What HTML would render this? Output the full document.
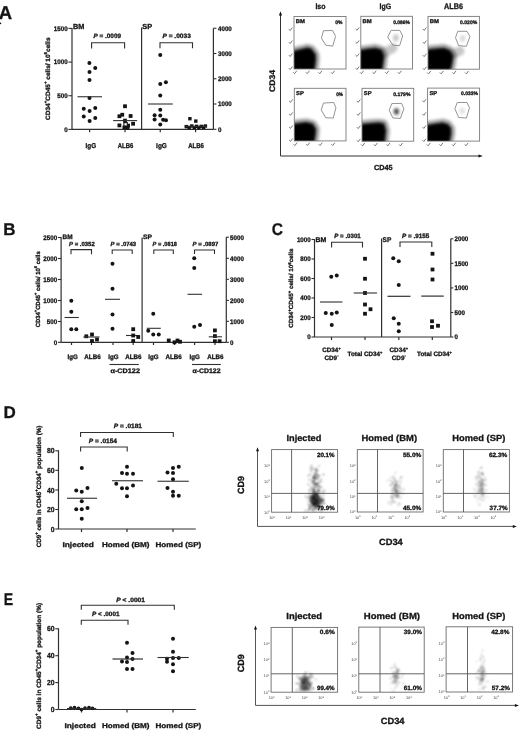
<!DOCTYPE html>
<html><head><meta charset="utf-8"><title>Figure</title>
<style>html,body{margin:0;padding:0;background:#fff;}body{width:520px;height:740px;overflow:hidden;font-family:"Liberation Sans", sans-serif;}svg{display:block;will-change:transform;text-rendering:geometricPrecision;}</style>
</head><body><svg width="520" height="740" viewBox="0 0 520 740" font-family='"Liberation Sans", sans-serif'><style>text{stroke:#141414;stroke-width:0.3px;paint-order:stroke;} text.g{stroke:none}</style><ellipse cx="0.2" cy="23.4" rx="1.1" ry="0.8" fill="#111"/>
<text x="-1.2" y="19.12" font-size="18.5" font-weight="bold" text-anchor="start" fill="#141414">A</text>
<text x="3.2" y="235.24" font-size="17" font-weight="bold" text-anchor="start" fill="#141414">B</text>
<text x="271.8" y="234.99" font-size="17" font-weight="bold" text-anchor="start" fill="#141414" textLength="11.2" lengthAdjust="spacingAndGlyphs">C</text>
<text x="3.5" y="418.44" font-size="17" font-weight="bold" text-anchor="start" fill="#141414">D</text>
<text x="3.7" y="605.39" font-size="17" font-weight="bold" text-anchor="start" fill="#141414" textLength="9.4" lengthAdjust="spacingAndGlyphs">E</text>
<line x1="72" y1="27.9" x2="72" y2="129.4" stroke="#303030" stroke-width="1.2"/>
<line x1="68.4" y1="28.4" x2="72" y2="28.4" stroke="#303030" stroke-width="1.1"/>
<text x="67.6" y="30.77" font-size="6.63" font-weight="bold" text-anchor="end" fill="#141414" textLength="13.79" lengthAdjust="spacingAndGlyphs">1500</text>
<line x1="68.4" y1="62.07" x2="72" y2="62.07" stroke="#303030" stroke-width="1.1"/>
<text x="67.6" y="64.44" font-size="6.63" font-weight="bold" text-anchor="end" fill="#141414" textLength="13.79" lengthAdjust="spacingAndGlyphs">1000</text>
<line x1="68.4" y1="95.73" x2="72" y2="95.73" stroke="#303030" stroke-width="1.1"/>
<text x="67.6" y="98.1" font-size="6.63" font-weight="bold" text-anchor="end" fill="#141414" textLength="10.34" lengthAdjust="spacingAndGlyphs">500</text>
<line x1="68.4" y1="129.4" x2="72" y2="129.4" stroke="#303030" stroke-width="1.1"/>
<text x="67.6" y="131.77" font-size="6.63" font-weight="bold" text-anchor="end" fill="#141414" textLength="3.45" lengthAdjust="spacingAndGlyphs">0</text>
<text x="73" y="29.01" font-size="7.3" font-weight="bold" text-anchor="start" fill="#141414" textLength="11.4" lengthAdjust="spacingAndGlyphs">BM</text>
<line x1="72" y1="129.3" x2="213.4" y2="129.3" stroke="#303030" stroke-width="1.2"/>
<line x1="141.6" y1="27.5" x2="141.6" y2="129.3" stroke="#303030" stroke-width="1.2"/>
<text x="142.3" y="29.01" font-size="7.3" font-weight="bold" text-anchor="start" fill="#141414" textLength="9.9" lengthAdjust="spacingAndGlyphs">SP</text>
<line x1="213.4" y1="28.2" x2="213.4" y2="129.3" stroke="#303030" stroke-width="1.2"/>
<line x1="213.4" y1="28.25" x2="216.4" y2="28.25" stroke="#303030" stroke-width="1.1"/>
<text x="218" y="30.62" font-size="6.63" font-weight="bold" text-anchor="start" fill="#141414" textLength="13.79" lengthAdjust="spacingAndGlyphs">4000</text>
<line x1="213.4" y1="53.5" x2="216.4" y2="53.5" stroke="#303030" stroke-width="1.1"/>
<text x="218" y="55.87" font-size="6.63" font-weight="bold" text-anchor="start" fill="#141414" textLength="13.79" lengthAdjust="spacingAndGlyphs">3000</text>
<line x1="213.4" y1="78.75" x2="216.4" y2="78.75" stroke="#303030" stroke-width="1.1"/>
<text x="218" y="81.12" font-size="6.63" font-weight="bold" text-anchor="start" fill="#141414" textLength="13.79" lengthAdjust="spacingAndGlyphs">2000</text>
<line x1="213.4" y1="104" x2="216.4" y2="104" stroke="#303030" stroke-width="1.1"/>
<text x="218" y="106.37" font-size="6.63" font-weight="bold" text-anchor="start" fill="#141414" textLength="13.79" lengthAdjust="spacingAndGlyphs">1000</text>
<line x1="213.4" y1="129.3" x2="216.4" y2="129.3" stroke="#303030" stroke-width="1.1"/>
<text x="218" y="131.67" font-size="6.63" font-weight="bold" text-anchor="start" fill="#141414" textLength="3.45" lengthAdjust="spacingAndGlyphs">0</text>
<line x1="89.6" y1="129.3" x2="89.6" y2="132.2" stroke="#303030" stroke-width="1.2"/>
<line x1="125" y1="129.3" x2="125" y2="132.2" stroke="#303030" stroke-width="1.2"/>
<line x1="160.25" y1="129.3" x2="160.25" y2="132.2" stroke="#303030" stroke-width="1.2"/>
<line x1="195.6" y1="129.3" x2="195.6" y2="132.2" stroke="#303030" stroke-width="1.2"/>
<text x="90.9" y="147.91" font-size="7" font-weight="bold" text-anchor="middle" fill="#141414" textLength="10.6" lengthAdjust="spacingAndGlyphs">IgG</text>
<text x="125.5" y="147.91" font-size="7" font-weight="bold" text-anchor="middle" fill="#141414" textLength="15.5" lengthAdjust="spacingAndGlyphs">ALB6</text>
<text x="161.5" y="147.91" font-size="7" font-weight="bold" text-anchor="middle" fill="#141414" textLength="10.8" lengthAdjust="spacingAndGlyphs">IgG</text>
<text x="196" y="147.91" font-size="7" font-weight="bold" text-anchor="middle" fill="#141414" textLength="15.7" lengthAdjust="spacingAndGlyphs">ALB6</text>
<text x="93.5" y="37.86" font-size="6.3" font-weight="bold" fill="#141414" textLength="27.5" lengthAdjust="spacingAndGlyphs"><tspan font-style="italic">P</tspan> = .0009</text>
<path d="M91.6,48.5V42.75H124.6V48.5" stroke="#303030" stroke-width="1.1" fill="none" />
<text x="162.5" y="37.56" font-size="6.3" font-weight="bold" fill="#141414" textLength="28.3" lengthAdjust="spacingAndGlyphs"><tspan font-style="italic">P</tspan> = .0033</text>
<path d="M160,48.2V42.75H192.5V48.2" stroke="#303030" stroke-width="1.1" fill="none" />
<text x="47.8" y="80.96" font-size="6.3" font-weight="bold" fill="#141414" text-anchor="middle" textLength="82.5" lengthAdjust="spacingAndGlyphs" transform="rotate(-90 47.8 78.7)"><tspan>CD34</tspan><tspan dy="-2.65" font-size="4.28">+</tspan><tspan dy="2.65">CD45</tspan><tspan dy="-2.65" font-size="4.28">+</tspan><tspan dy="2.65"> cells/ 10</tspan><tspan dy="-2.65" font-size="4.28">6</tspan><tspan dy="2.65">cells</tspan></text>
<circle cx="89.4" cy="63.1" r="2.0" fill="#141414"/>
<circle cx="95.25" cy="68.1" r="2.0" fill="#141414"/>
<circle cx="89.5" cy="72" r="2.0" fill="#141414"/>
<circle cx="89.5" cy="80" r="2.0" fill="#141414"/>
<circle cx="89.5" cy="98" r="2.0" fill="#141414"/>
<circle cx="83.75" cy="108.75" r="2.0" fill="#141414"/>
<circle cx="89.6" cy="111" r="2.0" fill="#141414"/>
<circle cx="95.25" cy="108.1" r="2.0" fill="#141414"/>
<circle cx="83.75" cy="116.6" r="2.0" fill="#141414"/>
<circle cx="95.25" cy="117.9" r="2.0" fill="#141414"/>
<circle cx="89.6" cy="120.9" r="2.0" fill="#141414"/>
<line x1="77.5" y1="96.75" x2="102" y2="96.75" stroke="#303030" stroke-width="1.1"/>
<rect x="123.1" y="104.35" width="3.8" height="3.8" fill="#141414"/>
<rect x="117.5" y="114.35" width="3.8" height="3.8" fill="#141414"/>
<rect x="120.35" y="112.85" width="3.8" height="3.8" fill="#141414"/>
<rect x="128.7" y="114.1" width="3.8" height="3.8" fill="#141414"/>
<rect x="123.1" y="118.7" width="3.8" height="3.8" fill="#141414"/>
<rect x="117.5" y="123.5" width="3.8" height="3.8" fill="#141414"/>
<rect x="126.2" y="123.7" width="3.8" height="3.8" fill="#141414"/>
<rect x="131.2" y="121.85" width="3.8" height="3.8" fill="#141414"/>
<rect x="122.5" y="125.6" width="3.8" height="3.8" fill="#141414"/>
<rect x="125.6" y="125.85" width="3.8" height="3.8" fill="#141414"/>
<line x1="113.1" y1="120.6" x2="137.1" y2="120.6" stroke="#303030" stroke-width="1.1"/>
<rect x="123.9" y="122.6" width="3.4" height="3.4" fill="#fff" stroke="#141414" stroke-width="1.1"/>
<circle cx="160.25" cy="55" r="2.0" fill="#141414"/>
<circle cx="160.25" cy="84.1" r="2.0" fill="#141414"/>
<circle cx="165.9" cy="82.25" r="2.0" fill="#141414"/>
<circle cx="160.25" cy="95.6" r="2.0" fill="#141414"/>
<circle cx="160.25" cy="109.75" r="2.0" fill="#141414"/>
<circle cx="154.6" cy="115.25" r="2.0" fill="#141414"/>
<circle cx="160.25" cy="115.6" r="2.0" fill="#141414"/>
<circle cx="154.6" cy="119.4" r="2.0" fill="#141414"/>
<circle cx="163.1" cy="119.75" r="2.0" fill="#141414"/>
<circle cx="166" cy="120.25" r="2.0" fill="#141414"/>
<circle cx="160.25" cy="124.4" r="2.0" fill="#141414"/>
<line x1="148.1" y1="104" x2="172.75" y2="104" stroke="#303030" stroke-width="1.1"/>
<rect x="188.2" y="117" width="3.4" height="3.4" fill="#141414"/>
<rect x="194.1" y="119.4" width="3.4" height="3.4" fill="#141414"/>
<rect x="184.6" y="124.9" width="3.4" height="3.4" fill="#141414"/>
<rect x="187.5" y="125.9" width="3.4" height="3.4" fill="#141414"/>
<rect x="190.1" y="124.3" width="3.4" height="3.4" fill="#141414"/>
<rect x="192.6" y="126.1" width="3.4" height="3.4" fill="#141414"/>
<rect x="194.8" y="124.6" width="3.4" height="3.4" fill="#141414"/>
<rect x="197.1" y="125.9" width="3.4" height="3.4" fill="#141414"/>
<rect x="199.6" y="124.7" width="3.4" height="3.4" fill="#141414"/>
<rect x="201.9" y="125.6" width="3.4" height="3.4" fill="#141414"/>
<rect x="203.7" y="124.3" width="3.4" height="3.4" fill="#141414"/>
<line x1="184.6" y1="126.3" x2="207.1" y2="126.3" stroke="#303030" stroke-width="1.1"/>
<text x="320.4" y="8.86" font-size="8" font-weight="bold" text-anchor="middle" fill="#141414" textLength="10" lengthAdjust="spacingAndGlyphs">Iso</text>
<text x="385.4" y="8.86" font-size="8" font-weight="bold" text-anchor="middle" fill="#141414" textLength="11.6" lengthAdjust="spacingAndGlyphs">IgG</text>
<text x="453.5" y="8.86" font-size="8" font-weight="bold" text-anchor="middle" fill="#141414" textLength="18.9" lengthAdjust="spacingAndGlyphs">ALB6</text>
<path d="M280.5,14V156H480" stroke="#333" stroke-width="1.0" fill="none" />
<path d="M278.9,15.5L280.5,11.2L282.1,15.5Z" stroke="none" stroke-width="0" fill="#111" />
<path d="M478.5,154.4L482.8,156L478.5,157.6Z" stroke="none" stroke-width="0" fill="#111" />
<text x="271.7" y="83.94" font-size="8.2" font-weight="bold" fill="#141414" text-anchor="middle" textLength="22" lengthAdjust="spacingAndGlyphs" transform="rotate(-90 271.7 81)">CD34</text>
<text x="374" y="170.41" font-size="7.3" font-weight="bold" text-anchor="start" fill="#141414" textLength="18.6" lengthAdjust="spacingAndGlyphs">CD45</text>
<defs><filter id="b1" filterUnits="userSpaceOnUse" x="0" y="0" width="520" height="740"><feGaussianBlur stdDeviation="1.6"/></filter><filter id="b2" filterUnits="userSpaceOnUse" x="0" y="0" width="520" height="740"><feGaussianBlur stdDeviation="0.8"/></filter><filter id="b3" filterUnits="userSpaceOnUse" x="0" y="0" width="520" height="740"><feGaussianBlur stdDeviation="2.5"/></filter><filter id="b05" filterUnits="userSpaceOnUse" x="0" y="0" width="520" height="740"><feGaussianBlur stdDeviation="0.8"/></filter></defs>
<defs><filter id="bh" filterUnits="userSpaceOnUse" x="0" y="0" width="520" height="740"><feGaussianBlur stdDeviation="1.8"/></filter></defs>
<clipPath id="cl00"><rect x="294" y="16.5" width="52" height="52.5"/></clipPath>
<g clip-path="url(#cl00)"><polygon points="292,71 292,51.7 294,51.7 300,50.3 307.4,48.6 311,49.5 314.8,54.8 315,60 313.7,69.5 313.7,71" fill="#000" stroke="#000" stroke-width="9" stroke-linejoin="round" opacity="0.4" filter="url(#bh)"/><polygon points="292,71 292,51.7 294,51.7 300,50.3 307.4,48.6 311,49.5 314.8,54.8 315,60 313.7,69.5 313.7,71" fill="#000" stroke="#000" stroke-width="2.6" stroke-linejoin="round" opacity="0.55" filter="url(#b2)"/><polygon points="292,71 292,51.7 294,51.7 300,50.3 307.4,48.6 311,49.5 314.8,54.8 315,60 313.7,69.5 313.7,71" fill="#000" filter="url(#b2)"/></g>
<rect x="294" y="16.5" width="52" height="52.5" fill="none" stroke="#7a7a7a" stroke-width="0.9"/>
<polygon points="321.4,38.2 323.5,30.7 332.7,30.5 335.6,36.5 332.7,46.1 325.8,45.2" fill="none" stroke="#888" stroke-width="0.9"/>
<text x="295.8" y="22.7" font-size="5.6" font-weight="bold" text-anchor="start" fill="#141414" textLength="9.2" lengthAdjust="spacingAndGlyphs">BM</text>
<text x="335.3" y="24.49" font-size="5" font-weight="bold" text-anchor="start" fill="#141414" textLength="7.2" lengthAdjust="spacingAndGlyphs">0%</text>
<path d="M289.1,29.4l1.1,1.1l1.9,-2.6" fill="none" stroke="#6a6a6a" stroke-width="0.9" stroke-linecap="round"/>
<path d="M293.5,72.6l1.1,1.1l1.9,-2.6" fill="none" stroke="#6a6a6a" stroke-width="0.9" stroke-linecap="round"/>
<path d="M289.1,42.4l1.1,1.1l1.9,-2.6" fill="none" stroke="#6a6a6a" stroke-width="0.9" stroke-linecap="round"/>
<path d="M306.1,72.6l1.1,1.1l1.9,-2.6" fill="none" stroke="#6a6a6a" stroke-width="0.9" stroke-linecap="round"/>
<path d="M289.1,55.4l1.1,1.1l1.9,-2.6" fill="none" stroke="#6a6a6a" stroke-width="0.9" stroke-linecap="round"/>
<path d="M318.7,72.6l1.1,1.1l1.9,-2.6" fill="none" stroke="#6a6a6a" stroke-width="0.9" stroke-linecap="round"/>
<path d="M289.1,68.4l1.1,1.1l1.9,-2.6" fill="none" stroke="#6a6a6a" stroke-width="0.9" stroke-linecap="round"/>
<path d="M331.3,72.6l1.1,1.1l1.9,-2.6" fill="none" stroke="#6a6a6a" stroke-width="0.9" stroke-linecap="round"/>
<clipPath id="cl01"><rect x="360.8" y="16.3" width="51.7" height="52.7"/></clipPath>
<g clip-path="url(#cl01)"><polygon points="358.8,71 358.8,50.7 360.8,50.7 368,49.6 375.4,48.8 380.8,50.3 383.1,55.7 382.7,61.1 381.5,69.5 381.5,71" fill="#000" stroke="#000" stroke-width="9" stroke-linejoin="round" opacity="0.4" filter="url(#bh)"/><polygon points="358.8,71 358.8,50.7 360.8,50.7 368,49.6 375.4,48.8 380.8,50.3 383.1,55.7 382.7,61.1 381.5,69.5 381.5,71" fill="#000" stroke="#000" stroke-width="2.6" stroke-linejoin="round" opacity="0.55" filter="url(#b2)"/><polyline points="378,58 386,52 393,48" fill="none" stroke="#000" stroke-width="9" stroke-linecap="round" opacity="0.22" filter="url(#bh)"/><polygon points="358.8,71 358.8,50.7 360.8,50.7 368,49.6 375.4,48.8 380.8,50.3 383.1,55.7 382.7,61.1 381.5,69.5 381.5,71" fill="#000" filter="url(#b2)"/></g>
<rect x="360.8" y="16.3" width="51.7" height="52.7" fill="none" stroke="#7a7a7a" stroke-width="0.9"/>
<polygon points="387.7,37.1 391.2,30.4 399.8,30.4 402.7,35.9 399.6,45.7 392.9,45.2" fill="none" stroke="#888" stroke-width="0.9"/>
<text x="362.6" y="22.5" font-size="5.6" font-weight="bold" text-anchor="start" fill="#141414" textLength="9.2" lengthAdjust="spacingAndGlyphs">BM</text>
<text x="393.2" y="24.29" font-size="5" font-weight="bold" text-anchor="start" fill="#141414" textLength="16.8" lengthAdjust="spacingAndGlyphs">0.086%</text>
<path d="M355.9,29.2l1.1,1.1l1.9,-2.6" fill="none" stroke="#6a6a6a" stroke-width="0.9" stroke-linecap="round"/>
<path d="M360.3,72.6l1.1,1.1l1.9,-2.6" fill="none" stroke="#6a6a6a" stroke-width="0.9" stroke-linecap="round"/>
<path d="M355.9,42.27l1.1,1.1l1.9,-2.6" fill="none" stroke="#6a6a6a" stroke-width="0.9" stroke-linecap="round"/>
<path d="M372.9,72.6l1.1,1.1l1.9,-2.6" fill="none" stroke="#6a6a6a" stroke-width="0.9" stroke-linecap="round"/>
<path d="M355.9,55.33l1.1,1.1l1.9,-2.6" fill="none" stroke="#6a6a6a" stroke-width="0.9" stroke-linecap="round"/>
<path d="M385.5,72.6l1.1,1.1l1.9,-2.6" fill="none" stroke="#6a6a6a" stroke-width="0.9" stroke-linecap="round"/>
<path d="M355.9,68.4l1.1,1.1l1.9,-2.6" fill="none" stroke="#6a6a6a" stroke-width="0.9" stroke-linecap="round"/>
<path d="M398.1,72.6l1.1,1.1l1.9,-2.6" fill="none" stroke="#6a6a6a" stroke-width="0.9" stroke-linecap="round"/>
<clipPath id="cl02"><rect x="428" y="16.4" width="51.4" height="52.8"/></clipPath>
<g clip-path="url(#cl02)"><polygon points="426,71.2 426,50.3 428,50.3 436,49.4 443.7,48.8 449.1,50.7 452.2,55.7 451.4,63.4 449.8,69.5 449.8,71.2" fill="#000" stroke="#000" stroke-width="9" stroke-linejoin="round" opacity="0.4" filter="url(#bh)"/><polygon points="426,71.2 426,50.3 428,50.3 436,49.4 443.7,48.8 449.1,50.7 452.2,55.7 451.4,63.4 449.8,69.5 449.8,71.2" fill="#000" stroke="#000" stroke-width="2.6" stroke-linejoin="round" opacity="0.55" filter="url(#b2)"/><polyline points="446,58 453,54 460,51" fill="none" stroke="#000" stroke-width="9" stroke-linecap="round" opacity="0.22" filter="url(#bh)"/><polygon points="426,71.2 426,50.3 428,50.3 436,49.4 443.7,48.8 449.1,50.7 452.2,55.7 451.4,63.4 449.8,69.5 449.8,71.2" fill="#000" filter="url(#b2)"/></g>
<rect x="428" y="16.4" width="51.4" height="52.8" fill="none" stroke="#7a7a7a" stroke-width="0.9"/>
<polygon points="455.5,37.7 457.8,31.3 467,31.3 469.9,36.5 466.4,46.3 458.7,45.7" fill="none" stroke="#888" stroke-width="0.9"/>
<text x="429.8" y="22.6" font-size="5.6" font-weight="bold" text-anchor="start" fill="#141414" textLength="9.2" lengthAdjust="spacingAndGlyphs">BM</text>
<text x="460.1" y="24.39" font-size="5" font-weight="bold" text-anchor="start" fill="#141414" textLength="17.1" lengthAdjust="spacingAndGlyphs">0.020%</text>
<path d="M423.1,29.3l1.1,1.1l1.9,-2.6" fill="none" stroke="#6a6a6a" stroke-width="0.9" stroke-linecap="round"/>
<path d="M427.5,72.8l1.1,1.1l1.9,-2.6" fill="none" stroke="#6a6a6a" stroke-width="0.9" stroke-linecap="round"/>
<path d="M423.1,42.4l1.1,1.1l1.9,-2.6" fill="none" stroke="#6a6a6a" stroke-width="0.9" stroke-linecap="round"/>
<path d="M440.1,72.8l1.1,1.1l1.9,-2.6" fill="none" stroke="#6a6a6a" stroke-width="0.9" stroke-linecap="round"/>
<path d="M423.1,55.5l1.1,1.1l1.9,-2.6" fill="none" stroke="#6a6a6a" stroke-width="0.9" stroke-linecap="round"/>
<path d="M452.7,72.8l1.1,1.1l1.9,-2.6" fill="none" stroke="#6a6a6a" stroke-width="0.9" stroke-linecap="round"/>
<path d="M423.1,68.6l1.1,1.1l1.9,-2.6" fill="none" stroke="#6a6a6a" stroke-width="0.9" stroke-linecap="round"/>
<path d="M465.3,72.8l1.1,1.1l1.9,-2.6" fill="none" stroke="#6a6a6a" stroke-width="0.9" stroke-linecap="round"/>
<clipPath id="cl10"><rect x="294.3" y="88.3" width="51.7" height="52.6"/></clipPath>
<g clip-path="url(#cl10)"><polygon points="292.3,142.9 292.3,124.6 294.3,124.6 300,123.8 306.2,123.1 312.3,124.6 315.1,129.2 314.8,134.2 313.5,141.5 313.5,142.9" fill="#000" stroke="#000" stroke-width="9" stroke-linejoin="round" opacity="0.4" filter="url(#bh)"/><polygon points="292.3,142.9 292.3,124.6 294.3,124.6 300,123.8 306.2,123.1 312.3,124.6 315.1,129.2 314.8,134.2 313.5,141.5 313.5,142.9" fill="#000" stroke="#000" stroke-width="2.6" stroke-linejoin="round" opacity="0.55" filter="url(#b2)"/><polygon points="292.3,142.9 292.3,124.6 294.3,124.6 300,123.8 306.2,123.1 312.3,124.6 315.1,129.2 314.8,134.2 313.5,141.5 313.5,142.9" fill="#000" filter="url(#b2)"/></g>
<rect x="294.3" y="88.3" width="51.7" height="52.6" fill="none" stroke="#7a7a7a" stroke-width="0.9"/>
<polygon points="321.2,110 323.5,103 333.8,102.5 335.9,107.7 333.3,118 325.8,117.8" fill="none" stroke="#888" stroke-width="0.9"/>
<text x="296.1" y="94.7" font-size="5.6" font-weight="bold" text-anchor="start" fill="#141414" textLength="7.8" lengthAdjust="spacingAndGlyphs">SP</text>
<text x="336.2" y="95.69" font-size="5" font-weight="bold" text-anchor="start" fill="#141414" textLength="6.8" lengthAdjust="spacingAndGlyphs">0%</text>
<path d="M289.4,101.2l1.1,1.1l1.9,-2.6" fill="none" stroke="#6a6a6a" stroke-width="0.9" stroke-linecap="round"/>
<path d="M293.8,144.5l1.1,1.1l1.9,-2.6" fill="none" stroke="#6a6a6a" stroke-width="0.9" stroke-linecap="round"/>
<path d="M289.4,114.23l1.1,1.1l1.9,-2.6" fill="none" stroke="#6a6a6a" stroke-width="0.9" stroke-linecap="round"/>
<path d="M306.4,144.5l1.1,1.1l1.9,-2.6" fill="none" stroke="#6a6a6a" stroke-width="0.9" stroke-linecap="round"/>
<path d="M289.4,127.27l1.1,1.1l1.9,-2.6" fill="none" stroke="#6a6a6a" stroke-width="0.9" stroke-linecap="round"/>
<path d="M319,144.5l1.1,1.1l1.9,-2.6" fill="none" stroke="#6a6a6a" stroke-width="0.9" stroke-linecap="round"/>
<path d="M289.4,140.3l1.1,1.1l1.9,-2.6" fill="none" stroke="#6a6a6a" stroke-width="0.9" stroke-linecap="round"/>
<path d="M331.6,144.5l1.1,1.1l1.9,-2.6" fill="none" stroke="#6a6a6a" stroke-width="0.9" stroke-linecap="round"/>
<clipPath id="cl11"><rect x="362" y="88.3" width="51.7" height="52.9"/></clipPath>
<g clip-path="url(#cl11)"><polygon points="360,143.2 360,124.9 362,124.9 370,124.1 378.5,123.4 383.4,124.3 385.2,130.5 384,141.5 384,143.2" fill="#000" stroke="#000" stroke-width="9" stroke-linejoin="round" opacity="0.4" filter="url(#bh)"/><polygon points="360,143.2 360,124.9 362,124.9 370,124.1 378.5,123.4 383.4,124.3 385.2,130.5 384,141.5 384,143.2" fill="#000" stroke="#000" stroke-width="2.6" stroke-linejoin="round" opacity="0.55" filter="url(#b2)"/><polygon points="360,143.2 360,124.9 362,124.9 370,124.1 378.5,123.4 383.4,124.3 385.2,130.5 384,141.5 384,143.2" fill="#000" filter="url(#b2)"/></g>
<rect x="362" y="88.3" width="51.7" height="52.9" fill="none" stroke="#7a7a7a" stroke-width="0.9"/>
<polygon points="389.2,110.3 391.8,103.6 401.6,103.4 403.9,108.8 400.4,118.4 392.9,118" fill="none" stroke="#888" stroke-width="0.9"/>
<text x="363.8" y="94.7" font-size="5.6" font-weight="bold" text-anchor="start" fill="#141414" textLength="7.8" lengthAdjust="spacingAndGlyphs">SP</text>
<text x="393.2" y="95.69" font-size="5" font-weight="bold" text-anchor="start" fill="#141414" textLength="17.3" lengthAdjust="spacingAndGlyphs">0.179%</text>
<path d="M357.1,101.2l1.1,1.1l1.9,-2.6" fill="none" stroke="#6a6a6a" stroke-width="0.9" stroke-linecap="round"/>
<path d="M361.5,144.8l1.1,1.1l1.9,-2.6" fill="none" stroke="#6a6a6a" stroke-width="0.9" stroke-linecap="round"/>
<path d="M357.1,114.33l1.1,1.1l1.9,-2.6" fill="none" stroke="#6a6a6a" stroke-width="0.9" stroke-linecap="round"/>
<path d="M374.1,144.8l1.1,1.1l1.9,-2.6" fill="none" stroke="#6a6a6a" stroke-width="0.9" stroke-linecap="round"/>
<path d="M357.1,127.47l1.1,1.1l1.9,-2.6" fill="none" stroke="#6a6a6a" stroke-width="0.9" stroke-linecap="round"/>
<path d="M386.7,144.8l1.1,1.1l1.9,-2.6" fill="none" stroke="#6a6a6a" stroke-width="0.9" stroke-linecap="round"/>
<path d="M357.1,140.6l1.1,1.1l1.9,-2.6" fill="none" stroke="#6a6a6a" stroke-width="0.9" stroke-linecap="round"/>
<path d="M399.3,144.8l1.1,1.1l1.9,-2.6" fill="none" stroke="#6a6a6a" stroke-width="0.9" stroke-linecap="round"/>
<clipPath id="cl12"><rect x="427.6" y="88.1" width="52" height="53"/></clipPath>
<g clip-path="url(#cl12)"><polygon points="425.6,143.1 425.6,125.8 427.6,125.8 435,124.6 442.6,123.4 447.5,124.9 450.3,128.6 450.3,134.2 448.8,141.5 448.8,143.1" fill="#000" stroke="#000" stroke-width="9" stroke-linejoin="round" opacity="0.4" filter="url(#bh)"/><polygon points="425.6,143.1 425.6,125.8 427.6,125.8 435,124.6 442.6,123.4 447.5,124.9 450.3,128.6 450.3,134.2 448.8,141.5 448.8,143.1" fill="#000" stroke="#000" stroke-width="2.6" stroke-linejoin="round" opacity="0.55" filter="url(#b2)"/><polygon points="425.6,143.1 425.6,125.8 427.6,125.8 435,124.6 442.6,123.4 447.5,124.9 450.3,128.6 450.3,134.2 448.8,141.5 448.8,143.1" fill="#000" filter="url(#b2)"/></g>
<rect x="427.6" y="88.1" width="52" height="53" fill="none" stroke="#7a7a7a" stroke-width="0.9"/>
<polygon points="454.9,108.8 457.2,102.5 467,102.5 469.5,107.7 466.4,118 458.7,117.5" fill="none" stroke="#888" stroke-width="0.9"/>
<text x="429.4" y="94.5" font-size="5.6" font-weight="bold" text-anchor="start" fill="#141414" textLength="7.8" lengthAdjust="spacingAndGlyphs">SP</text>
<text x="461" y="95.49" font-size="5" font-weight="bold" text-anchor="start" fill="#141414" textLength="17" lengthAdjust="spacingAndGlyphs">0.033%</text>
<path d="M422.7,101l1.1,1.1l1.9,-2.6" fill="none" stroke="#6a6a6a" stroke-width="0.9" stroke-linecap="round"/>
<path d="M427.1,144.7l1.1,1.1l1.9,-2.6" fill="none" stroke="#6a6a6a" stroke-width="0.9" stroke-linecap="round"/>
<path d="M422.7,114.17l1.1,1.1l1.9,-2.6" fill="none" stroke="#6a6a6a" stroke-width="0.9" stroke-linecap="round"/>
<path d="M439.7,144.7l1.1,1.1l1.9,-2.6" fill="none" stroke="#6a6a6a" stroke-width="0.9" stroke-linecap="round"/>
<path d="M422.7,127.33l1.1,1.1l1.9,-2.6" fill="none" stroke="#6a6a6a" stroke-width="0.9" stroke-linecap="round"/>
<path d="M452.3,144.7l1.1,1.1l1.9,-2.6" fill="none" stroke="#6a6a6a" stroke-width="0.9" stroke-linecap="round"/>
<path d="M422.7,140.5l1.1,1.1l1.9,-2.6" fill="none" stroke="#6a6a6a" stroke-width="0.9" stroke-linecap="round"/>
<path d="M464.9,144.7l1.1,1.1l1.9,-2.6" fill="none" stroke="#6a6a6a" stroke-width="0.9" stroke-linecap="round"/>
<ellipse cx="395.8" cy="37.8" rx="2.8" ry="3.6" fill="#000" opacity="0.22" filter="url(#bh)"/>
<ellipse cx="462.5" cy="38.5" rx="2.6" ry="3.4" fill="#000" opacity="0.15" filter="url(#bh)"/>
<ellipse cx="396.4" cy="111.5" rx="2.2" ry="2.8" fill="#000" opacity="0.5" filter="url(#b2)"/>
<ellipse cx="396.4" cy="111.5" rx="3.2" ry="4.0" fill="#000" opacity="0.3" filter="url(#bh)"/>
<ellipse cx="462.2" cy="111.0" rx="2.4" ry="3.2" fill="#000" opacity="0.13" filter="url(#bh)"/>
<line x1="61.1" y1="237" x2="61.1" y2="342.3" stroke="#303030" stroke-width="1.2"/>
<line x1="57.9" y1="237.5" x2="61.1" y2="237.5" stroke="#303030" stroke-width="1.1"/>
<text x="57.1" y="239.87" font-size="6.63" font-weight="bold" text-anchor="end" fill="#141414" textLength="13.79" lengthAdjust="spacingAndGlyphs">2500</text>
<line x1="57.9" y1="258.5" x2="61.1" y2="258.5" stroke="#303030" stroke-width="1.1"/>
<text x="57.1" y="260.87" font-size="6.63" font-weight="bold" text-anchor="end" fill="#141414" textLength="13.79" lengthAdjust="spacingAndGlyphs">2000</text>
<line x1="57.9" y1="279.5" x2="61.1" y2="279.5" stroke="#303030" stroke-width="1.1"/>
<text x="57.1" y="281.87" font-size="6.63" font-weight="bold" text-anchor="end" fill="#141414" textLength="13.79" lengthAdjust="spacingAndGlyphs">1500</text>
<line x1="57.9" y1="300.5" x2="61.1" y2="300.5" stroke="#303030" stroke-width="1.1"/>
<text x="57.1" y="302.87" font-size="6.63" font-weight="bold" text-anchor="end" fill="#141414" textLength="13.79" lengthAdjust="spacingAndGlyphs">1000</text>
<line x1="57.9" y1="321.5" x2="61.1" y2="321.5" stroke="#303030" stroke-width="1.1"/>
<text x="57.1" y="323.87" font-size="6.63" font-weight="bold" text-anchor="end" fill="#141414" textLength="10.34" lengthAdjust="spacingAndGlyphs">500</text>
<line x1="57.9" y1="342.3" x2="61.1" y2="342.3" stroke="#303030" stroke-width="1.1"/>
<text x="57.1" y="344.67" font-size="6.63" font-weight="bold" text-anchor="end" fill="#141414" textLength="3.45" lengthAdjust="spacingAndGlyphs">0</text>
<text x="62.5" y="238.69" font-size="6.4" font-weight="bold" text-anchor="start" fill="#141414" textLength="10" lengthAdjust="spacingAndGlyphs">BM</text>
<line x1="61.1" y1="342.3" x2="226.3" y2="342.3" stroke="#303030" stroke-width="1.2"/>
<line x1="142.1" y1="237.4" x2="142.1" y2="342.3" stroke="#303030" stroke-width="1.2"/>
<text x="143" y="239.29" font-size="6.4" font-weight="bold" text-anchor="start" fill="#141414" textLength="9" lengthAdjust="spacingAndGlyphs">SP</text>
<line x1="226.3" y1="237" x2="226.3" y2="342.3" stroke="#303030" stroke-width="1.2"/>
<line x1="226.3" y1="237.2" x2="228.9" y2="237.2" stroke="#303030" stroke-width="1.1"/>
<text x="230.1" y="239.57" font-size="6.63" font-weight="bold" text-anchor="start" fill="#141414" textLength="13.79" lengthAdjust="spacingAndGlyphs">5000</text>
<line x1="226.3" y1="258.3" x2="228.9" y2="258.3" stroke="#303030" stroke-width="1.1"/>
<text x="230.1" y="260.67" font-size="6.63" font-weight="bold" text-anchor="start" fill="#141414" textLength="13.79" lengthAdjust="spacingAndGlyphs">4000</text>
<line x1="226.3" y1="279.3" x2="228.9" y2="279.3" stroke="#303030" stroke-width="1.1"/>
<text x="230.1" y="281.67" font-size="6.63" font-weight="bold" text-anchor="start" fill="#141414" textLength="13.79" lengthAdjust="spacingAndGlyphs">3000</text>
<line x1="226.3" y1="300.4" x2="228.9" y2="300.4" stroke="#303030" stroke-width="1.1"/>
<text x="230.1" y="302.77" font-size="6.63" font-weight="bold" text-anchor="start" fill="#141414" textLength="13.79" lengthAdjust="spacingAndGlyphs">2000</text>
<line x1="226.3" y1="321.3" x2="228.9" y2="321.3" stroke="#303030" stroke-width="1.1"/>
<text x="230.1" y="323.67" font-size="6.63" font-weight="bold" text-anchor="start" fill="#141414" textLength="13.79" lengthAdjust="spacingAndGlyphs">1000</text>
<line x1="226.3" y1="342.3" x2="228.9" y2="342.3" stroke="#303030" stroke-width="1.1"/>
<text x="230.1" y="344.67" font-size="6.63" font-weight="bold" text-anchor="start" fill="#141414" textLength="3.45" lengthAdjust="spacingAndGlyphs">0</text>
<line x1="71.5" y1="342.3" x2="71.5" y2="345" stroke="#303030" stroke-width="1.2"/>
<line x1="91.5" y1="342.3" x2="91.5" y2="345" stroke="#303030" stroke-width="1.2"/>
<line x1="113" y1="342.3" x2="113" y2="345" stroke="#303030" stroke-width="1.2"/>
<line x1="133.2" y1="342.3" x2="133.2" y2="345" stroke="#303030" stroke-width="1.2"/>
<line x1="153.5" y1="342.3" x2="153.5" y2="345" stroke="#303030" stroke-width="1.2"/>
<line x1="174.5" y1="342.3" x2="174.5" y2="345" stroke="#303030" stroke-width="1.2"/>
<line x1="194.6" y1="342.3" x2="194.6" y2="345" stroke="#303030" stroke-width="1.2"/>
<line x1="215" y1="342.3" x2="215" y2="345" stroke="#303030" stroke-width="1.2"/>
<text x="72.7" y="358.96" font-size="6.6" font-weight="bold" text-anchor="middle" fill="#141414" textLength="10.3" lengthAdjust="spacingAndGlyphs">IgG</text>
<text x="92.5" y="358.96" font-size="6.6" font-weight="bold" text-anchor="middle" fill="#141414" textLength="16.3" lengthAdjust="spacingAndGlyphs">ALB6</text>
<text x="113.4" y="358.96" font-size="6.6" font-weight="bold" text-anchor="middle" fill="#141414" textLength="10.3" lengthAdjust="spacingAndGlyphs">IgG</text>
<text x="133.3" y="358.96" font-size="6.6" font-weight="bold" text-anchor="middle" fill="#141414" textLength="16.3" lengthAdjust="spacingAndGlyphs">ALB6</text>
<text x="153.4" y="358.96" font-size="6.6" font-weight="bold" text-anchor="middle" fill="#141414" textLength="10.3" lengthAdjust="spacingAndGlyphs">IgG</text>
<text x="173.6" y="358.96" font-size="6.6" font-weight="bold" text-anchor="middle" fill="#141414" textLength="16.3" lengthAdjust="spacingAndGlyphs">ALB6</text>
<text x="194.75" y="358.96" font-size="6.6" font-weight="bold" text-anchor="middle" fill="#141414" textLength="10.3" lengthAdjust="spacingAndGlyphs">IgG</text>
<text x="215.4" y="358.96" font-size="6.6" font-weight="bold" text-anchor="middle" fill="#141414" textLength="16.3" lengthAdjust="spacingAndGlyphs">ALB6</text>
<text x="69" y="246.45" font-size="6.0" font-weight="bold" fill="#141414" textLength="25.75" lengthAdjust="spacingAndGlyphs"><tspan font-style="italic">P</tspan> = .0352</text>
<text x="110.5" y="246.45" font-size="6.0" font-weight="bold" fill="#141414" textLength="25.7" lengthAdjust="spacingAndGlyphs"><tspan font-style="italic">P</tspan> = .0743</text>
<text x="152.5" y="246.45" font-size="6.0" font-weight="bold" fill="#141414" textLength="24.5" lengthAdjust="spacingAndGlyphs"><tspan font-style="italic">P</tspan> = .0818</text>
<text x="192.5" y="246.45" font-size="6.0" font-weight="bold" fill="#141414" textLength="25.8" lengthAdjust="spacingAndGlyphs"><tspan font-style="italic">P</tspan> = .0897</text>
<path d="M71,254.2V249.6H91.5V254.2" stroke="#303030" stroke-width="1.1" fill="none" />
<path d="M112.2,253.9V250H132.2V253.9" stroke="#303030" stroke-width="1.1" fill="none" />
<path d="M153.8,253.9V250H173.3V253.9" stroke="#303030" stroke-width="1.1" fill="none" />
<path d="M194.5,253.9V250H214.5V253.9" stroke="#303030" stroke-width="1.1" fill="none" />
<line x1="109.5" y1="364.5" x2="138.8" y2="364.5" stroke="#303030" stroke-width="1.1"/>
<line x1="192" y1="364.5" x2="220.8" y2="364.5" stroke="#303030" stroke-width="1.1"/>
<text x="125.2" y="372.86" font-size="6.6" font-weight="bold" text-anchor="middle" fill="#141414" textLength="29.5" lengthAdjust="spacingAndGlyphs">α-CD122</text>
<text x="206.5" y="372.86" font-size="6.6" font-weight="bold" text-anchor="middle" fill="#141414" textLength="28" lengthAdjust="spacingAndGlyphs">α-CD122</text>
<text x="37.8" y="291.35" font-size="6.0" font-weight="bold" fill="#141414" text-anchor="middle" textLength="75.9" lengthAdjust="spacingAndGlyphs" transform="rotate(-90 37.8 289.2)"><tspan>CD34</tspan><tspan dy="-2.52" font-size="4.08">+</tspan><tspan dy="2.52">CD45</tspan><tspan dy="-2.52" font-size="4.08">+</tspan><tspan dy="2.52"> cells/ 10</tspan><tspan dy="-2.52" font-size="4.08">6</tspan><tspan dy="2.52"> cells</tspan></text>
<circle cx="71.3" cy="300.75" r="2.0" fill="#141414"/>
<circle cx="71.3" cy="311.75" r="2.0" fill="#141414"/>
<circle cx="71.3" cy="329.25" r="2.0" fill="#141414"/>
<circle cx="76.3" cy="329.25" r="2.0" fill="#141414"/>
<line x1="64.5" y1="317.5" x2="78.8" y2="317.5" stroke="#303030" stroke-width="1.1"/>
<rect x="84.4" y="334.4" width="3.8" height="3.8" fill="#141414"/>
<rect x="90.1" y="332.6" width="3.8" height="3.8" fill="#141414"/>
<rect x="90.1" y="339.1" width="3.8" height="3.8" fill="#141414"/>
<rect x="95.1" y="337.6" width="3.8" height="3.8" fill="#141414"/>
<line x1="83.3" y1="337" x2="99.5" y2="337" stroke="#303030" stroke-width="1.1"/>
<circle cx="112.5" cy="263.75" r="2.0" fill="#141414"/>
<circle cx="112.5" cy="288.75" r="2.0" fill="#141414"/>
<circle cx="112.5" cy="314.5" r="2.0" fill="#141414"/>
<circle cx="112.5" cy="328.75" r="2.0" fill="#141414"/>
<line x1="105" y1="299.3" x2="120" y2="299.3" stroke="#303030" stroke-width="1.1"/>
<line x1="126" y1="335.5" x2="138.8" y2="335.5" stroke="#303030" stroke-width="1.1"/>
<rect x="131.3" y="327.3" width="3.8" height="3.8" fill="#141414"/>
<rect x="131.3" y="339.1" width="3.8" height="3.8" fill="#141414"/>
<rect x="136.3" y="335.1" width="3.8" height="3.8" fill="#141414"/>
<rect x="131.3" y="333.6" width="3.8" height="3.8" fill="#141414"/>
<circle cx="153.25" cy="313.75" r="2.0" fill="#141414"/>
<circle cx="148.25" cy="330.75" r="2.0" fill="#141414"/>
<circle cx="153.25" cy="334.5" r="2.0" fill="#141414"/>
<circle cx="158.75" cy="334.5" r="2.0" fill="#141414"/>
<line x1="146.8" y1="328.3" x2="160.8" y2="328.3" stroke="#303030" stroke-width="1.1"/>
<rect x="166.85" y="338.6" width="3.8" height="3.8" fill="#141414"/>
<rect x="172.6" y="340.4" width="3.8" height="3.8" fill="#141414"/>
<rect x="175.6" y="338.6" width="3.8" height="3.8" fill="#141414"/>
<rect x="178.1" y="339.85" width="3.8" height="3.8" fill="#141414"/>
<circle cx="194.25" cy="258.25" r="2.0" fill="#141414"/>
<circle cx="194.25" cy="268" r="2.0" fill="#141414"/>
<circle cx="194.25" cy="326.75" r="2.0" fill="#141414"/>
<circle cx="200" cy="325" r="2.0" fill="#141414"/>
<line x1="187.5" y1="294.3" x2="202" y2="294.3" stroke="#303030" stroke-width="1.1"/>
<rect x="213" y="328.5" width="3.8" height="3.8" fill="#141414"/>
<rect x="213" y="334.2" width="3.8" height="3.8" fill="#141414"/>
<rect x="213" y="339.3" width="3.8" height="3.8" fill="#141414"/>
<rect x="217.7" y="339.3" width="3.8" height="3.8" fill="#141414"/>
<line x1="208.8" y1="336.8" x2="222" y2="336.8" stroke="#303030" stroke-width="1.1"/>
<line x1="314.5" y1="239" x2="314.5" y2="337" stroke="#303030" stroke-width="1.2"/>
<line x1="311.5" y1="239.5" x2="314.5" y2="239.5" stroke="#303030" stroke-width="1.1"/>
<text x="310.7" y="241.87" font-size="6.63" font-weight="bold" text-anchor="end" fill="#141414" textLength="13.79" lengthAdjust="spacingAndGlyphs">1000</text>
<line x1="311.5" y1="259" x2="314.5" y2="259" stroke="#303030" stroke-width="1.1"/>
<text x="310.7" y="261.37" font-size="6.63" font-weight="bold" text-anchor="end" fill="#141414" textLength="10.34" lengthAdjust="spacingAndGlyphs">800</text>
<line x1="311.5" y1="278.5" x2="314.5" y2="278.5" stroke="#303030" stroke-width="1.1"/>
<text x="310.7" y="280.87" font-size="6.63" font-weight="bold" text-anchor="end" fill="#141414" textLength="10.34" lengthAdjust="spacingAndGlyphs">600</text>
<line x1="311.5" y1="298" x2="314.5" y2="298" stroke="#303030" stroke-width="1.1"/>
<text x="310.7" y="300.37" font-size="6.63" font-weight="bold" text-anchor="end" fill="#141414" textLength="10.34" lengthAdjust="spacingAndGlyphs">400</text>
<line x1="311.5" y1="317.5" x2="314.5" y2="317.5" stroke="#303030" stroke-width="1.1"/>
<text x="310.7" y="319.87" font-size="6.63" font-weight="bold" text-anchor="end" fill="#141414" textLength="10.34" lengthAdjust="spacingAndGlyphs">200</text>
<line x1="311.5" y1="337" x2="314.5" y2="337" stroke="#303030" stroke-width="1.1"/>
<text x="310.7" y="339.37" font-size="6.63" font-weight="bold" text-anchor="end" fill="#141414" textLength="3.45" lengthAdjust="spacingAndGlyphs">0</text>
<text x="315.5" y="241.93" font-size="6.8" font-weight="bold" text-anchor="start" fill="#141414" textLength="10.8" lengthAdjust="spacingAndGlyphs">BM</text>
<line x1="314.5" y1="337" x2="450.8" y2="337" stroke="#303030" stroke-width="1.2"/>
<line x1="381.6" y1="238.5" x2="381.6" y2="337" stroke="#303030" stroke-width="1.2"/>
<text x="382.6" y="241.93" font-size="6.8" font-weight="bold" text-anchor="start" fill="#141414" textLength="8.7" lengthAdjust="spacingAndGlyphs">SP</text>
<line x1="450.8" y1="238.7" x2="450.8" y2="337" stroke="#303030" stroke-width="1.2"/>
<line x1="450.8" y1="238.75" x2="453.3" y2="238.75" stroke="#303030" stroke-width="1.1"/>
<text x="454.5" y="241.12" font-size="6.63" font-weight="bold" text-anchor="start" fill="#141414" textLength="13.79" lengthAdjust="spacingAndGlyphs">2000</text>
<line x1="450.8" y1="263.3" x2="453.3" y2="263.3" stroke="#303030" stroke-width="1.1"/>
<text x="454.5" y="265.67" font-size="6.63" font-weight="bold" text-anchor="start" fill="#141414" textLength="13.79" lengthAdjust="spacingAndGlyphs">1500</text>
<line x1="450.8" y1="287.9" x2="453.3" y2="287.9" stroke="#303030" stroke-width="1.1"/>
<text x="454.5" y="290.27" font-size="6.63" font-weight="bold" text-anchor="start" fill="#141414" textLength="13.79" lengthAdjust="spacingAndGlyphs">1000</text>
<line x1="450.8" y1="312.5" x2="453.3" y2="312.5" stroke="#303030" stroke-width="1.1"/>
<text x="454.5" y="314.87" font-size="6.63" font-weight="bold" text-anchor="start" fill="#141414" textLength="10.34" lengthAdjust="spacingAndGlyphs">500</text>
<line x1="450.8" y1="337" x2="453.3" y2="337" stroke="#303030" stroke-width="1.1"/>
<text x="454.5" y="339.37" font-size="6.63" font-weight="bold" text-anchor="start" fill="#141414" textLength="3.45" lengthAdjust="spacingAndGlyphs">0</text>
<line x1="331.5" y1="337" x2="331.5" y2="340" stroke="#303030" stroke-width="1.2"/>
<line x1="365" y1="337" x2="365" y2="340" stroke="#303030" stroke-width="1.2"/>
<line x1="398.8" y1="337" x2="398.8" y2="340" stroke="#303030" stroke-width="1.2"/>
<line x1="432.3" y1="337" x2="432.3" y2="340" stroke="#303030" stroke-width="1.2"/>
<text x="334.3" y="238.02" font-size="6.2" font-weight="bold" fill="#141414" textLength="26.5" lengthAdjust="spacingAndGlyphs"><tspan font-style="italic">P</tspan> = .0301</text>
<path d="M331.6,247.5V242.2H362.5V247.5" stroke="#303030" stroke-width="1.1" fill="none" />
<text x="402" y="237.72" font-size="6.2" font-weight="bold" fill="#141414" textLength="27.3" lengthAdjust="spacingAndGlyphs"><tspan font-style="italic">P</tspan> = .9155</text>
<path d="M400,247V242H431.8V247" stroke="#303030" stroke-width="1.1" fill="none" />
<text x="291.3" y="290.25" font-size="6.0" font-weight="bold" fill="#141414" text-anchor="middle" textLength="79.3" lengthAdjust="spacingAndGlyphs" transform="rotate(-90 291.3 288.1)"><tspan>CD34</tspan><tspan dy="-2.52" font-size="4.08">+</tspan><tspan dy="2.52">CD45</tspan><tspan dy="-2.52" font-size="4.08">+</tspan><tspan dy="2.52"> cells/ 10</tspan><tspan dy="-2.52" font-size="4.08">6</tspan><tspan dy="2.52">cells</tspan></text>
<text x="331.5" y="352.2" font-size="6.3" font-weight="bold" fill="#141414" text-anchor="middle">CD34<tspan dy="-2.2" font-size="4">+</tspan></text>
<text x="331.5" y="359.6" font-size="6.3" font-weight="bold" fill="#141414" text-anchor="middle">CD9<tspan dy="-2.2" font-size="4">-</tspan></text>
<text x="398.8" y="352.2" font-size="6.3" font-weight="bold" fill="#141414" text-anchor="middle">CD34<tspan dy="-2.2" font-size="4">+</tspan></text>
<text x="398.8" y="359.6" font-size="6.3" font-weight="bold" fill="#141414" text-anchor="middle">CD9<tspan dy="-2.2" font-size="4">-</tspan></text>
<text x="365" y="356" font-size="6.3" font-weight="bold" fill="#141414" text-anchor="middle">Total CD34<tspan dy="-2.2" font-size="4">+</tspan></text>
<text x="434.5" y="356" font-size="6.3" font-weight="bold" fill="#141414" text-anchor="middle">Total CD34<tspan dy="-2.2" font-size="4">+</tspan></text>
<circle cx="331.25" cy="276.75" r="2.0" fill="#141414"/>
<circle cx="336.75" cy="275.5" r="2.0" fill="#141414"/>
<circle cx="325.75" cy="313" r="2.0" fill="#141414"/>
<circle cx="331.75" cy="313.75" r="2.0" fill="#141414"/>
<circle cx="336.75" cy="312.5" r="2.0" fill="#141414"/>
<circle cx="331.75" cy="325" r="2.0" fill="#141414"/>
<line x1="320" y1="302" x2="342.5" y2="302" stroke="#303030" stroke-width="1.1"/>
<rect x="363.1" y="256.85" width="3.8" height="3.8" fill="#141414"/>
<rect x="363.1" y="276.85" width="3.8" height="3.8" fill="#141414"/>
<rect x="363.1" y="291.1" width="3.8" height="3.8" fill="#141414"/>
<rect x="363.1" y="302.6" width="3.8" height="3.8" fill="#141414"/>
<rect x="368.6" y="307.35" width="3.8" height="3.8" fill="#141414"/>
<rect x="363.1" y="311.85" width="3.8" height="3.8" fill="#141414"/>
<line x1="353.75" y1="293" x2="377" y2="293" stroke="#303030" stroke-width="1.1"/>
<circle cx="393.25" cy="258.25" r="2.0" fill="#141414"/>
<circle cx="398.75" cy="261.25" r="2.0" fill="#141414"/>
<circle cx="398.75" cy="285" r="2.0" fill="#141414"/>
<circle cx="393.75" cy="318.25" r="2.0" fill="#141414"/>
<circle cx="398.75" cy="323.75" r="2.0" fill="#141414"/>
<circle cx="398.75" cy="331.25" r="2.0" fill="#141414"/>
<line x1="387.5" y1="296.3" x2="410.5" y2="296.3" stroke="#303030" stroke-width="1.2"/>
<rect x="430.6" y="251.85" width="3.8" height="3.8" fill="#141414"/>
<rect x="430.6" y="267.6" width="3.8" height="3.8" fill="#141414"/>
<rect x="430.6" y="277.6" width="3.8" height="3.8" fill="#141414"/>
<rect x="430.1" y="319.35" width="3.8" height="3.8" fill="#141414"/>
<rect x="436.1" y="323.85" width="3.8" height="3.8" fill="#141414"/>
<rect x="430.1" y="325.1" width="3.8" height="3.8" fill="#141414"/>
<line x1="421.25" y1="296.1" x2="443.75" y2="296.1" stroke="#303030" stroke-width="1.2"/>
<line x1="58.5" y1="450.3" x2="58.5" y2="529" stroke="#303030" stroke-width="1.2"/>
<line x1="55.3" y1="450.8" x2="58.5" y2="450.8" stroke="#303030" stroke-width="1.1"/>
<text x="54.5" y="453.4" font-size="7.28" font-weight="bold" text-anchor="end" fill="#141414" textLength="7.56" lengthAdjust="spacingAndGlyphs">80</text>
<line x1="55.3" y1="470.3" x2="58.5" y2="470.3" stroke="#303030" stroke-width="1.1"/>
<text x="54.5" y="472.9" font-size="7.28" font-weight="bold" text-anchor="end" fill="#141414" textLength="7.56" lengthAdjust="spacingAndGlyphs">60</text>
<line x1="55.3" y1="490" x2="58.5" y2="490" stroke="#303030" stroke-width="1.1"/>
<text x="54.5" y="492.6" font-size="7.28" font-weight="bold" text-anchor="end" fill="#141414" textLength="7.56" lengthAdjust="spacingAndGlyphs">40</text>
<line x1="55.3" y1="509.5" x2="58.5" y2="509.5" stroke="#303030" stroke-width="1.1"/>
<text x="54.5" y="512.1" font-size="7.28" font-weight="bold" text-anchor="end" fill="#141414" textLength="7.56" lengthAdjust="spacingAndGlyphs">20</text>
<line x1="55.3" y1="529" x2="58.5" y2="529" stroke="#303030" stroke-width="1.1"/>
<text x="54.5" y="531.6" font-size="7.28" font-weight="bold" text-anchor="end" fill="#141414" textLength="3.78" lengthAdjust="spacingAndGlyphs">0</text>
<line x1="58.5" y1="529" x2="195.8" y2="529" stroke="#303030" stroke-width="1.2"/>
<line x1="81.5" y1="529" x2="81.5" y2="532" stroke="#303030" stroke-width="1.2"/>
<line x1="127" y1="529" x2="127" y2="532" stroke="#303030" stroke-width="1.2"/>
<line x1="173" y1="529" x2="173" y2="532" stroke="#303030" stroke-width="1.2"/>
<text x="62.5" y="546.91" font-size="7" font-weight="bold" text-anchor="start" fill="#141414" textLength="31.3" lengthAdjust="spacingAndGlyphs">Injected</text>
<text x="102" y="546.91" font-size="7" font-weight="bold" text-anchor="start" fill="#141414" textLength="47.5" lengthAdjust="spacingAndGlyphs">Homed (BM)</text>
<text x="155.5" y="546.91" font-size="7" font-weight="bold" text-anchor="start" fill="#141414" textLength="45.8" lengthAdjust="spacingAndGlyphs">Homed (SP)</text>
<text x="88.8" y="442.72" font-size="6.2" font-weight="bold" fill="#141414" textLength="28.2" lengthAdjust="spacingAndGlyphs"><tspan font-style="italic">P</tspan> = .0154</text>
<path d="M80.6,451.5V447H127.2V451.5" stroke="#303030" stroke-width="1.1" fill="none" />
<text x="113.8" y="428.42" font-size="6.2" font-weight="bold" fill="#141414" textLength="28.2" lengthAdjust="spacingAndGlyphs"><tspan font-style="italic">P</tspan> = .0181</text>
<path d="M80.6,437V432.5H173.3V437" stroke="#303030" stroke-width="1.1" fill="none" />
<text x="38.6" y="488.76" font-size="6.3" font-weight="bold" fill="#141414" text-anchor="middle" textLength="121.7" lengthAdjust="spacingAndGlyphs" transform="rotate(-90 38.6 486.5)"><tspan>CD9</tspan><tspan dy="-2.65" font-size="4.28">+</tspan><tspan dy="2.65"> cells in CD45</tspan><tspan dy="-2.65" font-size="4.28">+</tspan><tspan dy="2.65">CD34</tspan><tspan dy="-2.65" font-size="4.28">+</tspan><tspan dy="2.65"> population (%)</tspan></text>
<circle cx="81.8" cy="468.1" r="2.0" fill="#141414"/>
<circle cx="76.25" cy="490.5" r="2.0" fill="#141414"/>
<circle cx="81.75" cy="491.75" r="2.0" fill="#141414"/>
<circle cx="87.5" cy="488" r="2.0" fill="#141414"/>
<circle cx="81.75" cy="501.25" r="2.0" fill="#141414"/>
<circle cx="76.25" cy="509.25" r="2.0" fill="#141414"/>
<circle cx="81.75" cy="509.25" r="2.0" fill="#141414"/>
<circle cx="87.5" cy="508" r="2.0" fill="#141414"/>
<circle cx="81.75" cy="518.75" r="2.0" fill="#141414"/>
<line x1="67" y1="498.25" x2="97" y2="498.25" stroke="#303030" stroke-width="1.1"/>
<circle cx="127" cy="466.75" r="2.0" fill="#141414"/>
<circle cx="122" cy="473" r="2.0" fill="#141414"/>
<circle cx="127" cy="473.75" r="2.0" fill="#141414"/>
<circle cx="133" cy="473.75" r="2.0" fill="#141414"/>
<circle cx="116.25" cy="483.75" r="2.0" fill="#141414"/>
<circle cx="122" cy="488.25" r="2.0" fill="#141414"/>
<circle cx="127" cy="488.25" r="2.0" fill="#141414"/>
<circle cx="133" cy="485.5" r="2.0" fill="#141414"/>
<circle cx="127" cy="496.25" r="2.0" fill="#141414"/>
<line x1="112" y1="480.75" x2="143" y2="480.75" stroke="#303030" stroke-width="1.1"/>
<circle cx="173" cy="468" r="2.0" fill="#141414"/>
<circle cx="178.75" cy="466.75" r="2.0" fill="#141414"/>
<circle cx="167.5" cy="472.5" r="2.0" fill="#141414"/>
<circle cx="173" cy="473" r="2.0" fill="#141414"/>
<circle cx="173" cy="479.25" r="2.0" fill="#141414"/>
<circle cx="167.5" cy="488" r="2.0" fill="#141414"/>
<circle cx="173" cy="491.75" r="2.0" fill="#141414"/>
<circle cx="173" cy="495.75" r="2.0" fill="#141414"/>
<circle cx="178.75" cy="495.75" r="2.0" fill="#141414"/>
<line x1="157.5" y1="481.25" x2="188.75" y2="481.25" stroke="#303030" stroke-width="1.1"/>
<line x1="58.5" y1="628.3" x2="58.5" y2="709.5" stroke="#303030" stroke-width="1.2"/>
<line x1="55.3" y1="628.8" x2="58.5" y2="628.8" stroke="#303030" stroke-width="1.1"/>
<text x="54.5" y="631.4" font-size="7.28" font-weight="bold" text-anchor="end" fill="#141414" textLength="7.56" lengthAdjust="spacingAndGlyphs">60</text>
<line x1="55.3" y1="655.7" x2="58.5" y2="655.7" stroke="#303030" stroke-width="1.1"/>
<text x="54.5" y="658.3" font-size="7.28" font-weight="bold" text-anchor="end" fill="#141414" textLength="7.56" lengthAdjust="spacingAndGlyphs">40</text>
<line x1="55.3" y1="682.6" x2="58.5" y2="682.6" stroke="#303030" stroke-width="1.1"/>
<text x="54.5" y="685.2" font-size="7.28" font-weight="bold" text-anchor="end" fill="#141414" textLength="7.56" lengthAdjust="spacingAndGlyphs">20</text>
<line x1="55.3" y1="709.5" x2="58.5" y2="709.5" stroke="#303030" stroke-width="1.1"/>
<text x="54.5" y="712.1" font-size="7.28" font-weight="bold" text-anchor="end" fill="#141414" textLength="3.78" lengthAdjust="spacingAndGlyphs">0</text>
<line x1="58.5" y1="709.5" x2="195.8" y2="709.5" stroke="#303030" stroke-width="1.2"/>
<line x1="81.5" y1="709.5" x2="81.5" y2="712.5" stroke="#303030" stroke-width="1.2"/>
<line x1="127" y1="709.5" x2="127" y2="712.5" stroke="#303030" stroke-width="1.2"/>
<line x1="173" y1="709.5" x2="173" y2="712.5" stroke="#303030" stroke-width="1.2"/>
<text x="64.5" y="728.11" font-size="7" font-weight="bold" text-anchor="start" fill="#141414" textLength="31.3" lengthAdjust="spacingAndGlyphs">Injected</text>
<text x="102" y="728.11" font-size="7" font-weight="bold" text-anchor="start" fill="#141414" textLength="47.5" lengthAdjust="spacingAndGlyphs">Homed (BM)</text>
<text x="155.5" y="728.11" font-size="7" font-weight="bold" text-anchor="start" fill="#141414" textLength="45.8" lengthAdjust="spacingAndGlyphs">Homed (SP)</text>
<text x="92" y="616.02" font-size="6.2" font-weight="bold" fill="#141414" textLength="27.5" lengthAdjust="spacingAndGlyphs"><tspan font-style="italic">P</tspan> &lt; .0001</text>
<path d="M81.3,624.8V620.3H128V624.8" stroke="#303030" stroke-width="1.1" fill="none" />
<text x="116.3" y="602.22" font-size="6.2" font-weight="bold" fill="#141414" textLength="28.7" lengthAdjust="spacingAndGlyphs"><tspan font-style="italic">P</tspan> &lt; .0001</text>
<path d="M81.3,609.8V605.3H174.3V609.8" stroke="#303030" stroke-width="1.1" fill="none" />
<text x="38.6" y="668.16" font-size="6.3" font-weight="bold" fill="#141414" text-anchor="middle" textLength="126" lengthAdjust="spacingAndGlyphs" transform="rotate(-90 38.6 665.9)"><tspan>CD9</tspan><tspan dy="-2.65" font-size="4.28">+</tspan><tspan dy="2.65"> cells in CD45</tspan><tspan dy="-2.65" font-size="4.28">+</tspan><tspan dy="2.65">CD34</tspan><tspan dy="-2.65" font-size="4.28">+</tspan><tspan dy="2.65"> population (%)</tspan></text>
<circle cx="70.75" cy="708" r="1.8" fill="#141414"/>
<circle cx="74.5" cy="707.5" r="1.8" fill="#141414"/>
<circle cx="78.5" cy="708.2" r="1.8" fill="#141414"/>
<circle cx="81.5" cy="709.6" r="1.8" fill="#141414"/>
<circle cx="85" cy="708" r="1.8" fill="#141414"/>
<circle cx="89" cy="707.5" r="1.8" fill="#141414"/>
<circle cx="92.5" cy="708.3" r="1.8" fill="#141414"/>
<line x1="67" y1="708.5" x2="96.25" y2="708.5" stroke="#303030" stroke-width="1.1"/>
<circle cx="127" cy="642.8" r="2.0" fill="#141414"/>
<circle cx="132.5" cy="652.9" r="2.0" fill="#141414"/>
<circle cx="127" cy="657.4" r="2.0" fill="#141414"/>
<circle cx="122" cy="661.6" r="2.0" fill="#141414"/>
<circle cx="127" cy="662.1" r="2.0" fill="#141414"/>
<circle cx="132.5" cy="659.1" r="2.0" fill="#141414"/>
<circle cx="127" cy="669.1" r="2.0" fill="#141414"/>
<circle cx="132.5" cy="669.1" r="2.0" fill="#141414"/>
<line x1="112.5" y1="659" x2="143" y2="659" stroke="#303030" stroke-width="1.2"/>
<circle cx="173" cy="638.75" r="2.0" fill="#141414"/>
<circle cx="173" cy="651.75" r="2.0" fill="#141414"/>
<circle cx="167" cy="658.75" r="2.0" fill="#141414"/>
<circle cx="173" cy="658" r="2.0" fill="#141414"/>
<circle cx="178.75" cy="658" r="2.0" fill="#141414"/>
<circle cx="167" cy="661.75" r="2.0" fill="#141414"/>
<circle cx="173" cy="664.25" r="2.0" fill="#141414"/>
<circle cx="173" cy="671.25" r="2.0" fill="#141414"/>
<line x1="157.5" y1="657.5" x2="188.75" y2="657.5" stroke="#303030" stroke-width="1.1"/>
<rect x="271.6" y="449.6" width="66" height="62.6" fill="none" stroke="#6a6a6a" stroke-width="0.9"/>
<line x1="291.6" y1="449.6" x2="291.6" y2="512.2" stroke="#555" stroke-width="0.9"/>
<line x1="271.6" y1="493.4" x2="337.6" y2="493.4" stroke="#555" stroke-width="0.9"/>
<text x="316.9" y="456.58" font-size="6.1" font-weight="bold" text-anchor="start" fill="#141414" textLength="17.8" lengthAdjust="spacingAndGlyphs">20.1%</text>
<text x="317.2" y="510.38" font-size="6.1" font-weight="bold" text-anchor="start" fill="#141414" textLength="17.5" lengthAdjust="spacingAndGlyphs">79.9%</text>
<text x="303.9" y="440.85" font-size="8.8" font-weight="bold" text-anchor="middle" fill="#141414" textLength="34.8" lengthAdjust="spacingAndGlyphs">Injected</text>
<text class="g" x="267" y="467.4" font-size="3.9" fill="#444" text-anchor="middle">10<tspan dy="-1.5" font-size="2.7">3</tspan></text>
<text class="g" x="272.1" y="519" font-size="3.9" fill="#444" text-anchor="middle">10<tspan dy="-1.5" font-size="2.7">0</tspan></text>
<text class="g" x="267" y="482.77" font-size="3.9" fill="#444" text-anchor="middle">10<tspan dy="-1.5" font-size="2.7">2</tspan></text>
<text class="g" x="288.6" y="519" font-size="3.9" fill="#444" text-anchor="middle">10<tspan dy="-1.5" font-size="2.7">1</tspan></text>
<text class="g" x="267" y="498.13" font-size="3.9" fill="#444" text-anchor="middle">10<tspan dy="-1.5" font-size="2.7">1</tspan></text>
<text class="g" x="305.1" y="519" font-size="3.9" fill="#444" text-anchor="middle">10<tspan dy="-1.5" font-size="2.7">2</tspan></text>
<text class="g" x="267" y="513.5" font-size="3.9" fill="#444" text-anchor="middle">10<tspan dy="-1.5" font-size="2.7">0</tspan></text>
<text class="g" x="321.6" y="519" font-size="3.9" fill="#444" text-anchor="middle">10<tspan dy="-1.5" font-size="2.7">3</tspan></text>
<rect x="357.3" y="449.6" width="65.8" height="62.4" fill="none" stroke="#6a6a6a" stroke-width="0.9"/>
<line x1="377.5" y1="449.6" x2="377.5" y2="512" stroke="#555" stroke-width="0.9"/>
<line x1="357.3" y1="493.4" x2="423.1" y2="493.4" stroke="#555" stroke-width="0.9"/>
<text x="402.9" y="456.58" font-size="6.1" font-weight="bold" text-anchor="start" fill="#141414" textLength="18.4" lengthAdjust="spacingAndGlyphs">55.0%</text>
<text x="402.9" y="510.38" font-size="6.1" font-weight="bold" text-anchor="start" fill="#141414" textLength="18.4" lengthAdjust="spacingAndGlyphs">45.0%</text>
<text x="389.3" y="440.85" font-size="8.8" font-weight="bold" text-anchor="middle" fill="#141414" textLength="55.5" lengthAdjust="spacingAndGlyphs">Homed (BM)</text>
<text class="g" x="352.7" y="467.4" font-size="3.9" fill="#444" text-anchor="middle">10<tspan dy="-1.5" font-size="2.7">3</tspan></text>
<text class="g" x="357.8" y="518.8" font-size="3.9" fill="#444" text-anchor="middle">10<tspan dy="-1.5" font-size="2.7">0</tspan></text>
<text class="g" x="352.7" y="482.7" font-size="3.9" fill="#444" text-anchor="middle">10<tspan dy="-1.5" font-size="2.7">2</tspan></text>
<text class="g" x="374.3" y="518.8" font-size="3.9" fill="#444" text-anchor="middle">10<tspan dy="-1.5" font-size="2.7">1</tspan></text>
<text class="g" x="352.7" y="498" font-size="3.9" fill="#444" text-anchor="middle">10<tspan dy="-1.5" font-size="2.7">1</tspan></text>
<text class="g" x="390.8" y="518.8" font-size="3.9" fill="#444" text-anchor="middle">10<tspan dy="-1.5" font-size="2.7">2</tspan></text>
<text class="g" x="352.7" y="513.3" font-size="3.9" fill="#444" text-anchor="middle">10<tspan dy="-1.5" font-size="2.7">0</tspan></text>
<text class="g" x="407.3" y="518.8" font-size="3.9" fill="#444" text-anchor="middle">10<tspan dy="-1.5" font-size="2.7">3</tspan></text>
<rect x="443.3" y="449.6" width="66.1" height="62.4" fill="none" stroke="#6a6a6a" stroke-width="0.9"/>
<line x1="463.5" y1="449.6" x2="463.5" y2="512" stroke="#555" stroke-width="0.9"/>
<line x1="443.3" y1="493.4" x2="509.4" y2="493.4" stroke="#555" stroke-width="0.9"/>
<text x="488.9" y="456.58" font-size="6.1" font-weight="bold" text-anchor="start" fill="#141414" textLength="18.4" lengthAdjust="spacingAndGlyphs">62.3%</text>
<text x="489.6" y="510.38" font-size="6.1" font-weight="bold" text-anchor="start" fill="#141414" textLength="18.1" lengthAdjust="spacingAndGlyphs">37.7%</text>
<text x="478.8" y="440.85" font-size="8.8" font-weight="bold" text-anchor="middle" fill="#141414" textLength="52.9" lengthAdjust="spacingAndGlyphs">Homed (SP)</text>
<text class="g" x="438.7" y="467.4" font-size="3.9" fill="#444" text-anchor="middle">10<tspan dy="-1.5" font-size="2.7">3</tspan></text>
<text class="g" x="443.8" y="518.8" font-size="3.9" fill="#444" text-anchor="middle">10<tspan dy="-1.5" font-size="2.7">0</tspan></text>
<text class="g" x="438.7" y="482.7" font-size="3.9" fill="#444" text-anchor="middle">10<tspan dy="-1.5" font-size="2.7">2</tspan></text>
<text class="g" x="460.3" y="518.8" font-size="3.9" fill="#444" text-anchor="middle">10<tspan dy="-1.5" font-size="2.7">1</tspan></text>
<text class="g" x="438.7" y="498" font-size="3.9" fill="#444" text-anchor="middle">10<tspan dy="-1.5" font-size="2.7">1</tspan></text>
<text class="g" x="476.8" y="518.8" font-size="3.9" fill="#444" text-anchor="middle">10<tspan dy="-1.5" font-size="2.7">2</tspan></text>
<text class="g" x="438.7" y="513.3" font-size="3.9" fill="#444" text-anchor="middle">10<tspan dy="-1.5" font-size="2.7">0</tspan></text>
<text class="g" x="493.3" y="518.8" font-size="3.9" fill="#444" text-anchor="middle">10<tspan dy="-1.5" font-size="2.7">3</tspan></text>
<path d="M257.5,450.3V526.4H513.8" stroke="#555" stroke-width="1.0" fill="none" />
<path d="M256,451.3L257.5,447.3L259,451.3Z" stroke="none" stroke-width="0" fill="#111" />
<path d="M512.8,524.9L516.8,526.4L512.8,527.9Z" stroke="none" stroke-width="0" fill="#111" />
<text x="240.8" y="488.22" font-size="9.0" font-weight="bold" fill="#141414" text-anchor="middle" textLength="18" lengthAdjust="spacingAndGlyphs" transform="rotate(-90 240.8 485)">CD9</text>
<text x="379" y="545.12" font-size="9" font-weight="bold" text-anchor="start" fill="#141414" textLength="23.8" lengthAdjust="spacingAndGlyphs">CD34</text>
<ellipse cx="315.5" cy="500" rx="4.4" ry="7" fill="#000" opacity="0.85" filter="url(#bh)"/>
<g filter="url(#b2)">
<path d="M315 484h1v1h-1zM314 490h1v1h-1zM313 491h1v1h-1zM318 491h1v1h-1zM319 491h1v1h-1zM323 491h1v1h-1zM316 493h1v1h-1zM313 494h1v1h-1zM314 494h1v1h-1zM315 494h1v1h-1zM316 494h1v1h-1zM317 494h1v1h-1zM315 495h1v1h-1zM308 496h1v1h-1zM310 496h1v1h-1zM312 496h1v1h-1zM313 496h1v1h-1zM310 497h1v1h-1zM312 497h1v1h-1zM313 497h1v1h-1zM315 497h1v1h-1zM318 497h1v1h-1zM310 498h1v1h-1zM312 498h1v1h-1zM313 498h1v1h-1zM314 498h1v1h-1zM310 499h1v1h-1zM312 499h1v1h-1zM315 499h1v1h-1zM316 499h1v1h-1zM320 499h1v1h-1zM321 499h1v1h-1zM322 499h1v1h-1zM323 499h1v1h-1zM309 500h1v1h-1zM315 500h1v1h-1zM317 500h1v1h-1zM320 500h1v1h-1zM322 500h1v1h-1zM323 500h1v1h-1zM315 501h1v1h-1zM317 501h1v1h-1zM320 501h1v1h-1zM311 502h1v1h-1zM312 502h1v1h-1zM314 502h1v1h-1zM315 502h1v1h-1zM317 502h1v1h-1zM322 502h1v1h-1zM313 503h1v1h-1zM314 503h1v1h-1zM317 503h1v1h-1zM320 503h1v1h-1zM322 503h1v1h-1zM324 503h1v1h-1zM308 504h1v1h-1zM311 504h1v1h-1zM313 504h1v1h-1zM314 504h1v1h-1zM317 504h1v1h-1zM320 504h1v1h-1zM309 505h1v1h-1zM313 505h1v1h-1zM316 505h1v1h-1zM318 505h1v1h-1zM310 506h1v1h-1zM316 506h1v1h-1zM318 506h1v1h-1zM309 507h1v1h-1zM313 507h1v1h-1zM318 507h1v1h-1zM321 507h1v1h-1zM309 508h1v1h-1zM311 508h1v1h-1zM319 508h1v1h-1zM313 509h1v1h-1zM305 510h1v1h-1zM308 510h1v1h-1zM313 510h1v1h-1zM320 510h1v1h-1zM322 510h1v1h-1z" fill="#000" opacity="0.95"/>
<path d="M313 480h1v1h-1zM318 489h1v1h-1zM310 490h1v1h-1zM313 490h1v1h-1zM317 490h1v1h-1zM314 491h1v1h-1zM314 492h1v1h-1zM315 492h1v1h-1zM322 492h1v1h-1zM312 493h1v1h-1zM312 494h1v1h-1zM323 495h1v1h-1zM305 496h1v1h-1zM311 496h1v1h-1zM314 496h1v1h-1zM316 496h1v1h-1zM317 496h1v1h-1zM320 496h1v1h-1zM314 497h1v1h-1zM307 498h1v1h-1zM315 498h1v1h-1zM319 498h1v1h-1zM313 499h1v1h-1zM314 499h1v1h-1zM317 499h1v1h-1zM319 499h1v1h-1zM311 500h1v1h-1zM316 500h1v1h-1zM310 501h1v1h-1zM312 501h1v1h-1zM313 501h1v1h-1zM314 501h1v1h-1zM316 501h1v1h-1zM319 501h1v1h-1zM321 501h1v1h-1zM313 502h1v1h-1zM319 502h1v1h-1zM315 503h1v1h-1zM319 503h1v1h-1zM315 504h1v1h-1zM316 504h1v1h-1zM319 504h1v1h-1zM311 506h1v1h-1zM317 506h1v1h-1zM314 507h1v1h-1zM316 507h1v1h-1zM315 508h1v1h-1zM317 508h1v1h-1zM309 509h1v1h-1zM312 510h1v1h-1zM316 510h1v1h-1z" fill="#222" opacity="0.85"/>
<path d="M319 493h1v1h-1zM310 495h1v1h-1zM314 495h1v1h-1zM316 495h1v1h-1zM315 496h1v1h-1zM321 496h1v1h-1zM316 497h1v1h-1zM317 497h1v1h-1zM316 498h1v1h-1zM317 498h1v1h-1zM320 498h1v1h-1zM322 498h1v1h-1zM311 499h1v1h-1zM318 499h1v1h-1zM313 500h1v1h-1zM314 500h1v1h-1zM319 500h1v1h-1zM308 501h1v1h-1zM311 501h1v1h-1zM316 502h1v1h-1zM318 502h1v1h-1zM323 502h1v1h-1zM311 503h1v1h-1zM312 503h1v1h-1zM314 505h1v1h-1zM317 505h1v1h-1zM314 508h1v1h-1zM316 508h1v1h-1zM320 509h1v1h-1z" fill="#555" opacity="0.75"/>
</g>
<g filter="url(#b2)">
<path d="M311 465h1v1h-1zM311 468h1v1h-1zM312 468h1v1h-1zM315 468h1v1h-1zM316 469h1v1h-1zM314 470h1v1h-1zM316 470h1v1h-1zM317 470h1v1h-1zM315 473h1v1h-1zM310 474h1v1h-1zM314 474h1v1h-1zM316 474h1v1h-1zM317 474h1v1h-1zM323 474h1v1h-1zM308 475h1v1h-1zM319 475h1v1h-1zM314 476h1v1h-1zM315 476h1v1h-1zM317 476h1v1h-1zM318 476h1v1h-1zM312 477h1v1h-1zM313 477h1v1h-1zM314 477h1v1h-1zM316 477h1v1h-1zM313 478h1v1h-1zM315 478h1v1h-1zM317 478h1v1h-1zM309 479h1v1h-1zM314 479h1v1h-1zM315 479h1v1h-1zM312 480h1v1h-1zM313 481h1v1h-1zM319 481h1v1h-1zM312 482h1v1h-1zM313 482h1v1h-1zM315 483h1v1h-1zM316 483h1v1h-1zM317 483h1v1h-1zM319 483h1v1h-1zM308 484h1v1h-1zM313 485h1v1h-1zM315 485h1v1h-1zM318 486h1v1h-1zM319 486h1v1h-1zM315 487h1v1h-1zM317 487h1v1h-1zM321 487h1v1h-1zM311 488h1v1h-1zM313 488h1v1h-1zM314 488h1v1h-1zM318 489h1v1h-1zM309 490h1v1h-1zM313 490h1v1h-1zM318 490h1v1h-1zM313 491h1v1h-1zM313 492h1v1h-1zM309 493h1v1h-1zM313 498h1v1h-1z" fill="#222" opacity="0.95"/>
<path d="M310 467h1v1h-1zM310 470h1v1h-1zM311 471h1v1h-1zM316 471h1v1h-1zM314 473h1v1h-1zM314 475h1v1h-1zM313 476h1v1h-1zM317 479h1v1h-1zM320 479h1v1h-1zM321 481h1v1h-1zM314 482h1v1h-1zM317 482h1v1h-1zM314 483h1v1h-1zM313 484h1v1h-1zM316 484h1v1h-1zM317 484h1v1h-1zM318 485h1v1h-1zM312 487h1v1h-1zM320 487h1v1h-1zM313 489h1v1h-1zM324 490h1v1h-1zM316 491h1v1h-1zM318 491h1v1h-1zM310 497h1v1h-1z" fill="#444" opacity="0.85"/>
<path d="M319 465h1v1h-1zM318 466h1v1h-1zM316 472h1v1h-1zM316 473h1v1h-1zM317 475h1v1h-1zM321 479h1v1h-1zM310 480h1v1h-1zM313 480h1v1h-1zM314 481h1v1h-1zM311 482h1v1h-1zM315 484h1v1h-1zM310 485h1v1h-1zM316 485h1v1h-1zM314 486h1v1h-1zM316 486h1v1h-1zM310 487h1v1h-1zM315 488h1v1h-1zM311 489h1v1h-1zM314 492h1v1h-1zM310 496h1v1h-1zM313 496h1v1h-1z" fill="#777" opacity="0.75"/>
</g>
<ellipse cx="395.3" cy="490" rx="2.5" ry="6" fill="#000" opacity="0.15" filter="url(#bh)"/>
<g filter="url(#b2)">
<path d="M393 477h1v1h-1zM401 477h1v1h-1zM395 481h1v1h-1zM397 481h1v1h-1zM400 481h1v1h-1zM392 482h1v1h-1zM393 483h1v1h-1zM391 484h1v1h-1zM395 484h1v1h-1zM396 484h1v1h-1zM390 485h1v1h-1zM395 485h1v1h-1zM399 485h1v1h-1zM395 486h1v1h-1zM397 486h1v1h-1zM394 487h1v1h-1zM398 487h1v1h-1zM392 489h1v1h-1zM395 489h1v1h-1zM400 489h1v1h-1zM403 489h1v1h-1zM395 490h1v1h-1zM392 491h1v1h-1zM395 491h1v1h-1zM396 491h1v1h-1zM397 491h1v1h-1zM396 492h1v1h-1zM400 492h1v1h-1zM392 493h1v1h-1zM398 493h1v1h-1zM402 493h1v1h-1zM392 494h1v1h-1zM395 494h1v1h-1zM396 495h1v1h-1zM397 495h1v1h-1zM391 496h1v1h-1zM393 496h1v1h-1zM397 496h1v1h-1zM398 496h1v1h-1zM391 497h1v1h-1zM400 497h1v1h-1zM392 500h1v1h-1zM391 501h1v1h-1zM388 502h1v1h-1zM399 503h1v1h-1z" fill="#444" opacity="0.95"/>
<path d="M395 472h1v1h-1zM390 477h1v1h-1zM400 477h1v1h-1zM394 478h1v1h-1zM387 480h1v1h-1zM390 480h1v1h-1zM394 480h1v1h-1zM395 480h1v1h-1zM396 483h1v1h-1zM394 485h1v1h-1zM400 487h1v1h-1zM393 488h1v1h-1zM394 488h1v1h-1zM396 488h1v1h-1zM396 490h1v1h-1zM398 490h1v1h-1zM399 492h1v1h-1zM397 493h1v1h-1zM398 494h1v1h-1zM395 495h1v1h-1zM397 497h1v1h-1zM392 498h1v1h-1zM394 501h1v1h-1zM393 502h1v1h-1zM390 504h1v1h-1zM398 505h1v1h-1z" fill="#666" opacity="0.85"/>
<path d="M393 475h1v1h-1zM393 478h1v1h-1zM399 479h1v1h-1zM391 481h1v1h-1zM392 481h1v1h-1zM397 482h1v1h-1zM395 483h1v1h-1zM400 483h1v1h-1zM397 484h1v1h-1zM397 485h1v1h-1zM399 487h1v1h-1zM395 488h1v1h-1zM391 489h1v1h-1zM396 489h1v1h-1zM395 492h1v1h-1zM396 493h1v1h-1zM394 494h1v1h-1zM396 496h1v1h-1zM392 497h1v1h-1zM396 497h1v1h-1zM394 498h1v1h-1zM395 502h1v1h-1zM391 503h1v1h-1zM398 503h1v1h-1z" fill="#999" opacity="0.75"/>
</g>
<ellipse cx="481.3" cy="487" rx="2.5" ry="6" fill="#000" opacity="0.15" filter="url(#bh)"/>
<g filter="url(#b2)">
<path d="M481 467h1v1h-1zM481 473h1v1h-1zM482 473h1v1h-1zM482 474h1v1h-1zM478 475h1v1h-1zM476 476h1v1h-1zM480 477h1v1h-1zM477 478h1v1h-1zM482 479h1v1h-1zM478 481h1v1h-1zM480 482h1v1h-1zM482 482h1v1h-1zM476 484h1v1h-1zM481 484h1v1h-1zM482 484h1v1h-1zM485 484h1v1h-1zM479 485h1v1h-1zM481 486h1v1h-1zM478 488h1v1h-1zM481 488h1v1h-1zM474 489h1v1h-1zM481 489h1v1h-1zM483 489h1v1h-1zM482 490h1v1h-1zM486 490h1v1h-1zM481 492h1v1h-1zM482 492h1v1h-1zM477 493h1v1h-1zM483 493h1v1h-1zM484 493h1v1h-1zM482 495h1v1h-1zM475 496h1v1h-1zM481 496h1v1h-1zM484 497h1v1h-1zM478 498h1v1h-1zM481 499h1v1h-1zM479 504h1v1h-1z" fill="#444" opacity="0.95"/>
<path d="M480 468h1v1h-1zM478 471h1v1h-1zM478 472h1v1h-1zM482 472h1v1h-1zM479 473h1v1h-1zM483 475h1v1h-1zM479 476h1v1h-1zM475 478h1v1h-1zM485 478h1v1h-1zM481 479h1v1h-1zM481 480h1v1h-1zM482 480h1v1h-1zM483 480h1v1h-1zM485 480h1v1h-1zM479 481h1v1h-1zM482 483h1v1h-1zM478 484h1v1h-1zM481 485h1v1h-1zM484 485h1v1h-1zM482 488h1v1h-1zM479 489h1v1h-1zM480 490h1v1h-1zM477 491h1v1h-1zM478 491h1v1h-1zM480 492h1v1h-1zM479 493h1v1h-1zM482 493h1v1h-1zM482 494h1v1h-1zM474 495h1v1h-1z" fill="#666" opacity="0.85"/>
<path d="M478 478h1v1h-1zM480 478h1v1h-1zM484 479h1v1h-1zM476 482h1v1h-1zM479 482h1v1h-1zM481 482h1v1h-1zM480 483h1v1h-1zM483 483h1v1h-1zM478 485h1v1h-1zM482 485h1v1h-1zM480 486h1v1h-1zM482 487h1v1h-1zM479 490h1v1h-1zM481 490h1v1h-1zM479 491h1v1h-1zM480 491h1v1h-1zM474 492h1v1h-1zM483 492h1v1h-1zM479 496h1v1h-1zM487 496h1v1h-1zM482 500h1v1h-1zM484 500h1v1h-1zM477 501h1v1h-1z" fill="#999" opacity="0.75"/>
</g>
<rect x="271.1" y="627.4" width="66.5" height="64.8" fill="none" stroke="#6a6a6a" stroke-width="0.9"/>
<line x1="292.3" y1="627.4" x2="292.3" y2="692.2" stroke="#555" stroke-width="0.9"/>
<line x1="271.1" y1="673.8" x2="337.6" y2="673.8" stroke="#555" stroke-width="0.9"/>
<text x="319.8" y="634.48" font-size="6.1" font-weight="bold" text-anchor="start" fill="#141414" textLength="14.9" lengthAdjust="spacingAndGlyphs">0.6%</text>
<text x="316.9" y="690.18" font-size="6.1" font-weight="bold" text-anchor="start" fill="#141414" textLength="17.8" lengthAdjust="spacingAndGlyphs">99.4%</text>
<text x="304.1" y="619.15" font-size="8.8" font-weight="bold" text-anchor="middle" fill="#141414" textLength="35.6" lengthAdjust="spacingAndGlyphs">Injected</text>
<text class="g" x="266.5" y="645.2" font-size="3.9" fill="#444" text-anchor="middle">10<tspan dy="-1.5" font-size="2.7">3</tspan></text>
<text class="g" x="271.6" y="699" font-size="3.9" fill="#444" text-anchor="middle">10<tspan dy="-1.5" font-size="2.7">0</tspan></text>
<text class="g" x="266.5" y="661.3" font-size="3.9" fill="#444" text-anchor="middle">10<tspan dy="-1.5" font-size="2.7">2</tspan></text>
<text class="g" x="288.1" y="699" font-size="3.9" fill="#444" text-anchor="middle">10<tspan dy="-1.5" font-size="2.7">1</tspan></text>
<text class="g" x="266.5" y="677.4" font-size="3.9" fill="#444" text-anchor="middle">10<tspan dy="-1.5" font-size="2.7">1</tspan></text>
<text class="g" x="304.6" y="699" font-size="3.9" fill="#444" text-anchor="middle">10<tspan dy="-1.5" font-size="2.7">2</tspan></text>
<text class="g" x="266.5" y="693.5" font-size="3.9" fill="#444" text-anchor="middle">10<tspan dy="-1.5" font-size="2.7">0</tspan></text>
<text class="g" x="321.1" y="699" font-size="3.9" fill="#444" text-anchor="middle">10<tspan dy="-1.5" font-size="2.7">3</tspan></text>
<rect x="358.8" y="627.1" width="65.4" height="65.1" fill="none" stroke="#6a6a6a" stroke-width="0.9"/>
<line x1="380" y1="627.1" x2="380" y2="692.2" stroke="#555" stroke-width="0.9"/>
<line x1="358.8" y1="673.8" x2="424.2" y2="673.8" stroke="#555" stroke-width="0.9"/>
<text x="403.8" y="634.48" font-size="6.1" font-weight="bold" text-anchor="start" fill="#141414" textLength="18.1" lengthAdjust="spacingAndGlyphs">39.0%</text>
<text x="403.8" y="690.18" font-size="6.1" font-weight="bold" text-anchor="start" fill="#141414" textLength="18.1" lengthAdjust="spacingAndGlyphs">61.0%</text>
<text x="391.9" y="619.15" font-size="8.8" font-weight="bold" text-anchor="middle" fill="#141414" textLength="56.3" lengthAdjust="spacingAndGlyphs">Homed (BM)</text>
<text class="g" x="354.2" y="644.9" font-size="3.9" fill="#444" text-anchor="middle">10<tspan dy="-1.5" font-size="2.7">3</tspan></text>
<text class="g" x="359.3" y="699" font-size="3.9" fill="#444" text-anchor="middle">10<tspan dy="-1.5" font-size="2.7">0</tspan></text>
<text class="g" x="354.2" y="661.1" font-size="3.9" fill="#444" text-anchor="middle">10<tspan dy="-1.5" font-size="2.7">2</tspan></text>
<text class="g" x="375.8" y="699" font-size="3.9" fill="#444" text-anchor="middle">10<tspan dy="-1.5" font-size="2.7">1</tspan></text>
<text class="g" x="354.2" y="677.3" font-size="3.9" fill="#444" text-anchor="middle">10<tspan dy="-1.5" font-size="2.7">1</tspan></text>
<text class="g" x="392.3" y="699" font-size="3.9" fill="#444" text-anchor="middle">10<tspan dy="-1.5" font-size="2.7">2</tspan></text>
<text class="g" x="354.2" y="693.5" font-size="3.9" fill="#444" text-anchor="middle">10<tspan dy="-1.5" font-size="2.7">0</tspan></text>
<text class="g" x="408.8" y="699" font-size="3.9" fill="#444" text-anchor="middle">10<tspan dy="-1.5" font-size="2.7">3</tspan></text>
<rect x="446.1" y="626.8" width="66.5" height="65.2" fill="none" stroke="#6a6a6a" stroke-width="0.9"/>
<line x1="467.5" y1="626.8" x2="467.5" y2="692" stroke="#555" stroke-width="0.9"/>
<line x1="446.1" y1="673.8" x2="512.6" y2="673.8" stroke="#555" stroke-width="0.9"/>
<text x="491.2" y="634.48" font-size="6.1" font-weight="bold" text-anchor="start" fill="#141414" textLength="18.2" lengthAdjust="spacingAndGlyphs">42.8%</text>
<text x="491.8" y="690.18" font-size="6.1" font-weight="bold" text-anchor="start" fill="#141414" textLength="18.1" lengthAdjust="spacingAndGlyphs">57.2%</text>
<text x="478.8" y="619.15" font-size="8.8" font-weight="bold" text-anchor="middle" fill="#141414" textLength="52.9" lengthAdjust="spacingAndGlyphs">Homed (SP)</text>
<text class="g" x="441.5" y="644.6" font-size="3.9" fill="#444" text-anchor="middle">10<tspan dy="-1.5" font-size="2.7">3</tspan></text>
<text class="g" x="446.6" y="698.8" font-size="3.9" fill="#444" text-anchor="middle">10<tspan dy="-1.5" font-size="2.7">0</tspan></text>
<text class="g" x="441.5" y="660.83" font-size="3.9" fill="#444" text-anchor="middle">10<tspan dy="-1.5" font-size="2.7">2</tspan></text>
<text class="g" x="463.1" y="698.8" font-size="3.9" fill="#444" text-anchor="middle">10<tspan dy="-1.5" font-size="2.7">1</tspan></text>
<text class="g" x="441.5" y="677.07" font-size="3.9" fill="#444" text-anchor="middle">10<tspan dy="-1.5" font-size="2.7">1</tspan></text>
<text class="g" x="479.6" y="698.8" font-size="3.9" fill="#444" text-anchor="middle">10<tspan dy="-1.5" font-size="2.7">2</tspan></text>
<text class="g" x="441.5" y="693.3" font-size="3.9" fill="#444" text-anchor="middle">10<tspan dy="-1.5" font-size="2.7">0</tspan></text>
<text class="g" x="496.1" y="698.8" font-size="3.9" fill="#444" text-anchor="middle">10<tspan dy="-1.5" font-size="2.7">3</tspan></text>
<path d="M255.5,628.4V705.4H515.9" stroke="#555" stroke-width="1.0" fill="none" />
<path d="M254,629.4L255.5,625.4L257,629.4Z" stroke="none" stroke-width="0" fill="#111" />
<path d="M514.9,703.9L518.9,705.4L514.9,706.9Z" stroke="none" stroke-width="0" fill="#111" />
<text x="240.8" y="666.42" font-size="9.0" font-weight="bold" fill="#141414" text-anchor="middle" textLength="18" lengthAdjust="spacingAndGlyphs" transform="rotate(-90 240.8 663.2)">CD9</text>
<text x="380.7" y="724.12" font-size="9" font-weight="bold" text-anchor="start" fill="#141414" textLength="23.8" lengthAdjust="spacingAndGlyphs">CD34</text>
<ellipse cx="305.3" cy="683.5" rx="3.8" ry="6.5" fill="#000" opacity="0.55" filter="url(#bh)"/>
<g filter="url(#b2)">
<path d="M305 672h1v1h-1zM310 674h1v1h-1zM311 674h1v1h-1zM304 675h1v1h-1zM305 675h1v1h-1zM297 676h1v1h-1zM304 676h1v1h-1zM309 676h1v1h-1zM312 676h1v1h-1zM300 677h1v1h-1zM304 677h1v1h-1zM307 677h1v1h-1zM309 677h1v1h-1zM311 677h1v1h-1zM299 678h1v1h-1zM300 678h1v1h-1zM302 678h1v1h-1zM303 678h1v1h-1zM304 678h1v1h-1zM306 678h1v1h-1zM301 679h1v1h-1zM305 679h1v1h-1zM306 679h1v1h-1zM309 679h1v1h-1zM301 680h1v1h-1zM302 680h1v1h-1zM304 680h1v1h-1zM307 680h1v1h-1zM300 681h1v1h-1zM303 681h1v1h-1zM304 681h1v1h-1zM306 681h1v1h-1zM301 682h1v1h-1zM303 682h1v1h-1zM304 682h1v1h-1zM305 682h1v1h-1zM308 682h1v1h-1zM311 682h1v1h-1zM296 683h1v1h-1zM298 683h1v1h-1zM302 683h1v1h-1zM304 683h1v1h-1zM308 683h1v1h-1zM309 683h1v1h-1zM311 683h1v1h-1zM300 684h1v1h-1zM302 684h1v1h-1zM305 684h1v1h-1zM309 684h1v1h-1zM309 685h1v1h-1zM300 686h1v1h-1zM301 686h1v1h-1zM305 686h1v1h-1zM306 686h1v1h-1zM309 686h1v1h-1zM310 686h1v1h-1zM302 687h1v1h-1zM303 687h1v1h-1zM306 687h1v1h-1zM308 687h1v1h-1zM302 688h1v1h-1zM304 688h1v1h-1zM305 688h1v1h-1zM306 688h1v1h-1zM309 688h1v1h-1zM312 688h1v1h-1zM313 688h1v1h-1zM300 689h1v1h-1zM301 689h1v1h-1zM303 689h1v1h-1zM304 689h1v1h-1zM306 689h1v1h-1zM307 689h1v1h-1zM308 689h1v1h-1zM309 689h1v1h-1zM296 690h1v1h-1zM300 690h1v1h-1zM304 690h1v1h-1z" fill="#111" opacity="0.95"/>
<path d="M305 673h1v1h-1zM308 676h1v1h-1zM306 677h1v1h-1zM307 678h1v1h-1zM303 679h1v1h-1zM304 679h1v1h-1zM315 679h1v1h-1zM305 680h1v1h-1zM309 680h1v1h-1zM302 681h1v1h-1zM302 682h1v1h-1zM307 682h1v1h-1zM303 683h1v1h-1zM305 683h1v1h-1zM307 683h1v1h-1zM299 684h1v1h-1zM303 684h1v1h-1zM310 684h1v1h-1zM301 685h1v1h-1zM303 685h1v1h-1zM304 685h1v1h-1zM306 685h1v1h-1zM308 685h1v1h-1zM303 686h1v1h-1zM311 686h1v1h-1zM299 687h1v1h-1zM301 687h1v1h-1zM304 687h1v1h-1zM307 688h1v1h-1zM298 689h1v1h-1zM303 690h1v1h-1zM310 690h1v1h-1z" fill="#444" opacity="0.85"/>
<path d="M309 672h1v1h-1zM303 674h1v1h-1zM302 675h1v1h-1zM306 675h1v1h-1zM303 676h1v1h-1zM301 677h1v1h-1zM302 677h1v1h-1zM308 677h1v1h-1zM298 678h1v1h-1zM298 679h1v1h-1zM303 680h1v1h-1zM305 681h1v1h-1zM306 682h1v1h-1zM306 683h1v1h-1zM304 684h1v1h-1zM308 684h1v1h-1zM311 684h1v1h-1zM302 685h1v1h-1zM305 685h1v1h-1zM304 686h1v1h-1zM300 687h1v1h-1zM305 687h1v1h-1zM309 687h1v1h-1zM303 688h1v1h-1zM302 689h1v1h-1zM301 690h1v1h-1zM306 690h1v1h-1zM307 690h1v1h-1z" fill="#777" opacity="0.75"/>
</g>
<ellipse cx="396" cy="676" rx="2.2" ry="5" fill="#000" opacity="0.1" filter="url(#bh)"/>
<g filter="url(#b2)">
<path d="M392 667h1v1h-1zM395 667h1v1h-1zM396 668h1v1h-1zM398 669h1v1h-1zM398 670h1v1h-1zM397 671h1v1h-1zM392 672h1v1h-1zM394 672h1v1h-1zM396 672h1v1h-1zM397 672h1v1h-1zM398 673h1v1h-1zM396 674h1v1h-1zM402 674h1v1h-1zM393 675h1v1h-1zM394 675h1v1h-1zM396 675h1v1h-1zM394 676h1v1h-1zM393 677h1v1h-1zM395 677h1v1h-1zM396 677h1v1h-1zM399 677h1v1h-1zM390 678h1v1h-1zM397 678h1v1h-1zM394 679h1v1h-1zM395 679h1v1h-1zM395 680h1v1h-1zM395 681h1v1h-1zM392 682h1v1h-1zM393 682h1v1h-1zM395 682h1v1h-1zM399 682h1v1h-1zM396 683h1v1h-1zM403 683h1v1h-1zM397 685h1v1h-1zM395 687h1v1h-1zM393 690h1v1h-1z" fill="#555" opacity="0.95"/>
<path d="M394 665h1v1h-1zM390 668h1v1h-1zM397 669h1v1h-1zM397 670h1v1h-1zM396 671h1v1h-1zM393 673h1v1h-1zM395 673h1v1h-1zM397 675h1v1h-1zM393 676h1v1h-1zM395 676h1v1h-1zM396 676h1v1h-1zM397 676h1v1h-1zM398 677h1v1h-1zM402 677h1v1h-1zM396 679h1v1h-1zM393 681h1v1h-1zM397 681h1v1h-1z" fill="#777" opacity="0.85"/>
<path d="M394 663h1v1h-1zM395 664h1v1h-1zM400 671h1v1h-1zM397 674h1v1h-1zM391 676h1v1h-1zM392 679h1v1h-1zM394 682h1v1h-1zM398 682h1v1h-1zM390 683h1v1h-1zM394 684h1v1h-1zM390 688h1v1h-1z" fill="#aaa" opacity="0.75"/>
</g>
<ellipse cx="482" cy="675" rx="2" ry="6" fill="#000" opacity="0.1" filter="url(#bh)"/>
<g filter="url(#b2)">
<path d="M483 657h1v1h-1zM480 658h1v1h-1zM480 660h1v1h-1zM483 662h1v1h-1zM481 666h1v1h-1zM480 667h1v1h-1zM483 667h1v1h-1zM481 668h1v1h-1zM479 670h1v1h-1zM478 671h1v1h-1zM482 671h1v1h-1zM484 671h1v1h-1zM481 672h1v1h-1zM482 672h1v1h-1zM482 674h1v1h-1zM482 675h1v1h-1zM485 675h1v1h-1zM476 677h1v1h-1zM478 677h1v1h-1zM483 677h1v1h-1zM481 678h1v1h-1zM481 679h1v1h-1zM483 679h1v1h-1zM480 680h1v1h-1zM481 680h1v1h-1zM482 680h1v1h-1zM487 681h1v1h-1zM479 682h1v1h-1zM481 682h1v1h-1zM479 684h1v1h-1zM485 686h1v1h-1zM483 687h1v1h-1zM483 688h1v1h-1z" fill="#555" opacity="0.95"/>
<path d="M482 650h1v1h-1zM481 654h1v1h-1zM481 656h1v1h-1zM484 660h1v1h-1zM481 664h1v1h-1zM483 665h1v1h-1zM482 667h1v1h-1zM483 668h1v1h-1zM481 669h1v1h-1zM484 669h1v1h-1zM478 670h1v1h-1zM482 670h1v1h-1zM483 670h1v1h-1zM479 671h1v1h-1zM483 671h1v1h-1zM476 672h1v1h-1zM485 672h1v1h-1zM481 673h1v1h-1zM482 673h1v1h-1zM483 674h1v1h-1zM481 675h1v1h-1zM483 676h1v1h-1zM481 677h1v1h-1zM479 678h1v1h-1zM482 678h1v1h-1zM479 679h1v1h-1zM482 679h1v1h-1zM481 684h1v1h-1zM482 688h1v1h-1zM479 689h1v1h-1z" fill="#777" opacity="0.85"/>
<path d="M476 661h1v1h-1zM479 668h1v1h-1zM479 669h1v1h-1zM480 675h1v1h-1zM482 677h1v1h-1zM483 678h1v1h-1zM476 679h1v1h-1zM483 681h1v1h-1zM484 683h1v1h-1z" fill="#aaa" opacity="0.75"/>
</g></svg></body></html>
